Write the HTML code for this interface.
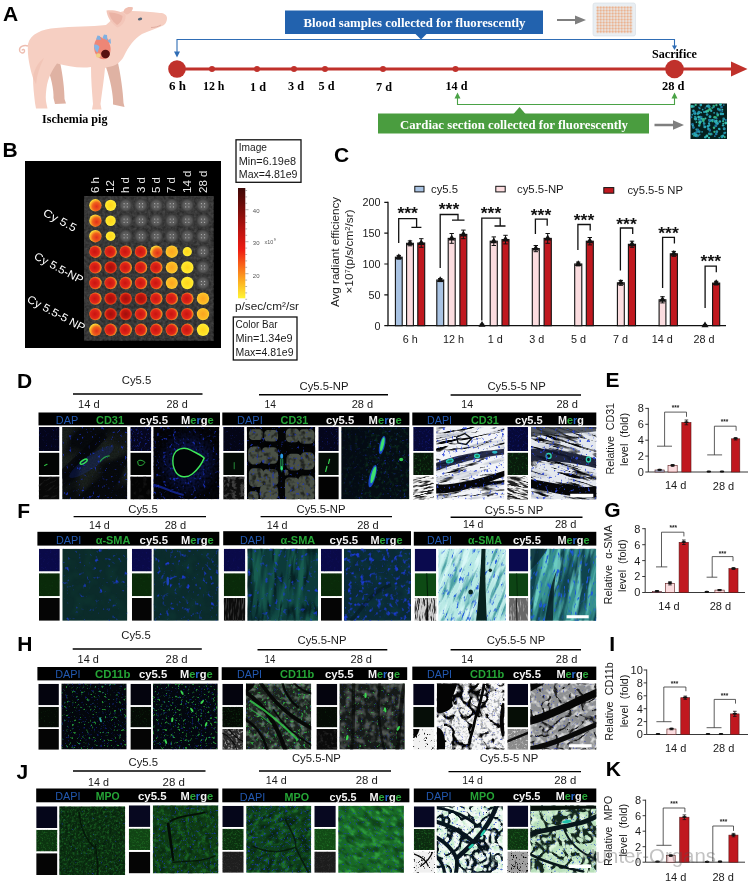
<!DOCTYPE html>
<html lang="en">
<head>
<meta charset="utf-8">
<title>Figure</title>
<style>
html,body{margin:0;padding:0;background:#fff;}
body{width:750px;height:884px;overflow:hidden;}
svg{display:block;}
.ss{font-family:'Liberation Sans', sans-serif;}
.sf{font-family:'Liberation Serif', serif;}
</style>
</head>
<body>
<svg width="750" height="884" viewBox="0 0 750 884">
<defs>
<pattern id="wellp" x="596.3" y="6.200" width="3" height="3" patternUnits="userSpaceOnUse"><circle cx="1.500" cy="1.500" r="1.150" fill="#eba57a"/></pattern>
<filter id="plateTex" x="0" y="0" width="100%" height="100%"><feTurbulence type="fractalNoise" baseFrequency="0.35" numOctaves="2" seed="3"/><feColorMatrix type="matrix" values="0 0 0 0 0.30  0 0 0 0 0.30  0 0 0 0 0.30  0.9 0 0 0 -0.15"/></filter>
<radialGradient id="wg" cx="50%" cy="50%" r="50%"><stop offset="0" stop-color="#686868"/><stop offset="0.7" stop-color="#565656"/><stop offset="1" stop-color="#3c3c3c"/></radialGradient>
<radialGradient id="wR" cx="45%" cy="50%" r="55%"><stop offset="0" stop-color="#c8140f"/><stop offset="0.65" stop-color="#e0261a"/><stop offset="0.85" stop-color="#f46a1e"/><stop offset="1" stop-color="#f9b62a"/></radialGradient>
<radialGradient id="wD" cx="50%" cy="50%" r="55%"><stop offset="0" stop-color="#9c100c"/><stop offset="0.6" stop-color="#c4140f"/><stop offset="0.88" stop-color="#ec4a1a"/><stop offset="1" stop-color="#f7a026"/></radialGradient>
<radialGradient id="wO" cx="60%" cy="60%" r="60%"><stop offset="0" stop-color="#e0301a"/><stop offset="0.55" stop-color="#f0601c"/><stop offset="0.85" stop-color="#fbb32a"/><stop offset="1" stop-color="#ffe03a"/></radialGradient>
<radialGradient id="wYO" cx="50%" cy="50%" r="55%"><stop offset="0" stop-color="#fba41f"/><stop offset="0.7" stop-color="#fdbb25"/><stop offset="1" stop-color="#ffe23a"/></radialGradient>
<radialGradient id="wY" cx="50%" cy="50%" r="55%"><stop offset="0" stop-color="#ffd21e"/><stop offset="0.7" stop-color="#ffe628"/><stop offset="1" stop-color="#fff048"/></radialGradient>
<linearGradient id="cbar" x1="0" y1="0" x2="0" y2="1"><stop offset="0" stop-color="#3e0806"/><stop offset="0.2" stop-color="#7c0d0a"/><stop offset="0.4" stop-color="#c01410"/><stop offset="0.56" stop-color="#ee1c12"/><stop offset="0.7" stop-color="#f8641a"/><stop offset="0.85" stop-color="#fdb121"/><stop offset="1" stop-color="#fff535"/></linearGradient>
<filter id="n0" x="0" y="0" width="100%" height="100%" color-interpolation-filters="sRGB"><feTurbulence type="fractalNoise" baseFrequency="0.018 0.03" numOctaves="2" seed="11"/><feColorMatrix type="matrix" values="0 0 0 0 0.165  0 0 0 0 0.196  0 0 0 0 0.165  5 0 0 0 -2.4"/></filter>
<filter id="n1" x="0" y="0" width="100%" height="100%" color-interpolation-filters="sRGB"><feTurbulence type="fractalNoise" baseFrequency="0.5 0.5" numOctaves="1" seed="5"/><feColorMatrix type="matrix" values="0 0 0 0 0.000  0 0 0 0 0.000  0 0 0 0 0.000  1.2 0 0 0 -0.35"/></filter>
<filter id="n2" x="0" y="0" width="100%" height="100%" color-interpolation-filters="sRGB"><feTurbulence type="fractalNoise" baseFrequency="0.2 0.2" numOctaves="2" seed="21"/><feColorMatrix type="matrix" values="0 0 0 0 0.110  0 0 0 0 0.204  0 0 0 0 0.816  7 0 0 0 -4.6"/></filter>
<filter id="n3" x="0" y="0" width="100%" height="100%" color-interpolation-filters="sRGB"><feTurbulence type="fractalNoise" baseFrequency="0.2 0.2" numOctaves="2" seed="33"/><feColorMatrix type="matrix" values="0 0 0 0 0.110  0 0 0 0 0.204  0 0 0 0 0.816  6 0 0 0 -3.7"/></filter>
<filter id="n4" x="0" y="0" width="100%" height="100%" color-interpolation-filters="sRGB"><feTurbulence type="fractalNoise" baseFrequency="0.3 0.3" numOctaves="1" seed="8"/><feColorMatrix type="matrix" values="0 0 0 0 0.000  0 0 0 0 0.000  0 0 0 0 0.000  3 0 0 0 -1.3"/></filter>
<filter id="n5" x="0" y="0" width="100%" height="100%" color-interpolation-filters="sRGB"><feTurbulence type="fractalNoise" baseFrequency="0.14 0.14" numOctaves="2" seed="4"/><feColorMatrix type="matrix" values="0 0 0 0 0.000  0 0 0 0 0.000  0 0 0 0 0.000  4 0 0 0 -1.9"/></filter>
<filter id="n6" x="0" y="0" width="100%" height="100%" color-interpolation-filters="sRGB"><feTurbulence type="fractalNoise" baseFrequency="0.22 0.22" numOctaves="2" seed="41"/><feColorMatrix type="matrix" values="0 0 0 0 0.110  0 0 0 0 0.204  0 0 0 0 0.753  7 0 0 0 -4.5"/></filter>
<filter id="n7" x="0" y="0" width="100%" height="100%" color-interpolation-filters="sRGB"><feTurbulence type="fractalNoise" baseFrequency="0.2 0.2" numOctaves="2" seed="6"/><feColorMatrix type="matrix" values="0 0 0 0 0.102  0 0 0 0 0.416  0 0 0 0 0.188  3.5 0 0 0 -1.8"/></filter>
<filter id="n8" x="0" y="0" width="100%" height="100%" color-interpolation-filters="sRGB"><feTurbulence type="fractalNoise" baseFrequency="0.24 0.24" numOctaves="2" seed="52"/><feColorMatrix type="matrix" values="0 0 0 0 0.102  0 0 0 0 0.188  0 0 0 0 0.753  6 0 0 0 -3.9"/></filter>
<filter id="n9" x="0" y="0" width="100%" height="100%" color-interpolation-filters="sRGB"><feTurbulence type="fractalNoise" baseFrequency="0.015 0.12" numOctaves="3" seed="12"/><feColorMatrix type="matrix" values="0 0 0 0 0.502  0 0 0 0 0.533  0 0 0 0 0.588  4 0 0 0 -2.1"/></filter>
<filter id="n10" x="0" y="0" width="100%" height="100%" color-interpolation-filters="sRGB"><feTurbulence type="fractalNoise" baseFrequency="0.02 0.16" numOctaves="3" seed="15"/><feColorMatrix type="matrix" values="0 0 0 0 0.020  0 0 0 0 0.024  0 0 0 0 0.031  9 0 0 0 -5.5"/></filter>
<filter id="n11" x="0" y="0" width="100%" height="100%" color-interpolation-filters="sRGB"><feTurbulence type="turbulence" baseFrequency="0.015 0.1" numOctaves="2" seed="16"/><feColorMatrix type="matrix" values="0 0 0 0 0.020  0 0 0 0 0.024  0 0 0 0 0.031  -9 0 0 0 1.3"/></filter>
<filter id="n12" x="0" y="0" width="100%" height="100%" color-interpolation-filters="sRGB"><feTurbulence type="fractalNoise" baseFrequency="0.22 0.22" numOctaves="2" seed="17"/><feColorMatrix type="matrix" values="0 0 0 0 0.165  0 0 0 0 0.267  0 0 0 0 0.847  7 0 0 0 -4.4"/></filter>
<filter id="n13" x="0" y="0" width="100%" height="100%" color-interpolation-filters="sRGB"><feTurbulence type="fractalNoise" baseFrequency="0.015 0.12" numOctaves="3" seed="17"/><feColorMatrix type="matrix" values="0 0 0 0 0.502  0 0 0 0 0.533  0 0 0 0 0.588  4 0 0 0 -2.1"/></filter>
<filter id="n14" x="0" y="0" width="100%" height="100%" color-interpolation-filters="sRGB"><feTurbulence type="fractalNoise" baseFrequency="0.02 0.16" numOctaves="3" seed="20"/><feColorMatrix type="matrix" values="0 0 0 0 0.020  0 0 0 0 0.024  0 0 0 0 0.031  9 0 0 0 -5.5"/></filter>
<filter id="n15" x="0" y="0" width="100%" height="100%" color-interpolation-filters="sRGB"><feTurbulence type="turbulence" baseFrequency="0.015 0.1" numOctaves="2" seed="21"/><feColorMatrix type="matrix" values="0 0 0 0 0.020  0 0 0 0 0.024  0 0 0 0 0.031  -9 0 0 0 1.3"/></filter>
<filter id="n16" x="0" y="0" width="100%" height="100%" color-interpolation-filters="sRGB"><feTurbulence type="fractalNoise" baseFrequency="0.22 0.22" numOctaves="2" seed="22"/><feColorMatrix type="matrix" values="0 0 0 0 0.165  0 0 0 0 0.267  0 0 0 0 0.847  7 0 0 0 -4.4"/></filter>
<filter id="n17" x="0" y="0" width="100%" height="100%" color-interpolation-filters="sRGB"><feTurbulence type="fractalNoise" baseFrequency="0.12 0.12" numOctaves="2" seed="1"/><feColorMatrix type="matrix" values="0 0 0 0 0.125  0 0 0 0 0.188  0 0 0 0 0.753  3 0 0 0 -1.9"/></filter>
<filter id="n18" x="0" y="0" width="100%" height="100%" color-interpolation-filters="sRGB"><feTurbulence type="fractalNoise" baseFrequency="0.03 0.1" numOctaves="2" seed="2"/><feColorMatrix type="matrix" values="0 0 0 0 0.165  0 0 0 0 0.165  0 0 0 0 0.165  3 0 0 0 -1.6"/></filter>
<filter id="n19" x="0" y="0" width="100%" height="100%" color-interpolation-filters="sRGB"><feTurbulence type="fractalNoise" baseFrequency="0.12 0.12" numOctaves="2" seed="3"/><feColorMatrix type="matrix" values="0 0 0 0 0.125  0 0 0 0 0.188  0 0 0 0 0.753  3.5 0 0 0 -1.9"/></filter>
<filter id="n20" x="0" y="0" width="100%" height="100%" color-interpolation-filters="sRGB"><feTurbulence type="fractalNoise" baseFrequency="0.05 0.05" numOctaves="2" seed="4"/><feColorMatrix type="matrix" values="0 0 0 0 0.086  0 0 0 0 0.086  0 0 0 0 0.086  3 0 0 0 -1.5"/></filter>
<filter id="n21" x="0" y="0" width="100%" height="100%" color-interpolation-filters="sRGB"><feTurbulence type="fractalNoise" baseFrequency="0.12 0.12" numOctaves="2" seed="5"/><feColorMatrix type="matrix" values="0 0 0 0 0.125  0 0 0 0 0.188  0 0 0 0 0.753  2.5 0 0 0 -1.6"/></filter>
<filter id="n22" x="0" y="0" width="100%" height="100%" color-interpolation-filters="sRGB"><feTurbulence type="fractalNoise" baseFrequency="0.05 0.07" numOctaves="2" seed="6"/><feColorMatrix type="matrix" values="0 0 0 0 0.267  0 0 0 0 0.267  0 0 0 0 0.267  5 0 0 0 -2.3"/></filter>
<filter id="n23" x="0" y="0" width="100%" height="100%" color-interpolation-filters="sRGB"><feTurbulence type="fractalNoise" baseFrequency="0.12 0.12" numOctaves="2" seed="7"/><feColorMatrix type="matrix" values="0 0 0 0 0.125  0 0 0 0 0.188  0 0 0 0 0.753  3 0 0 0 -1.8"/></filter>
<filter id="n24" x="0" y="0" width="100%" height="100%" color-interpolation-filters="sRGB"><feTurbulence type="fractalNoise" baseFrequency="0.12 0.12" numOctaves="2" seed="8"/><feColorMatrix type="matrix" values="0 0 0 0 0.125  0 0 0 0 0.188  0 0 0 0 0.753  2 0 0 0 -1.1"/></filter>
<filter id="n25" x="0" y="0" width="100%" height="100%" color-interpolation-filters="sRGB"><feTurbulence type="fractalNoise" baseFrequency="0.1 0.1" numOctaves="2" seed="9"/><feColorMatrix type="matrix" values="0 0 0 0 0.165  0 0 0 0 0.604  0 0 0 0 0.227  2 0 0 0 -1.1"/></filter>
<filter id="n26" x="0" y="0" width="100%" height="100%" color-interpolation-filters="sRGB"><feTurbulence type="fractalNoise" baseFrequency="0.02 0.2" numOctaves="2" seed="10"/><feColorMatrix type="matrix" values="0 0 0 0 0.039  0 0 0 0 0.039  0 0 0 0 0.039  7 0 0 0 -3.2"/></filter>
<filter id="n27" x="0" y="0" width="100%" height="100%" color-interpolation-filters="sRGB"><feTurbulence type="fractalNoise" baseFrequency="0.12 0.12" numOctaves="2" seed="11"/><feColorMatrix type="matrix" values="0 0 0 0 0.125  0 0 0 0 0.188  0 0 0 0 0.753  2 0 0 0 -1.1"/></filter>
<filter id="n28" x="0" y="0" width="100%" height="100%" color-interpolation-filters="sRGB"><feTurbulence type="fractalNoise" baseFrequency="0.1 0.1" numOctaves="2" seed="12"/><feColorMatrix type="matrix" values="0 0 0 0 0.165  0 0 0 0 0.604  0 0 0 0 0.227  2 0 0 0 -1.1"/></filter>
<filter id="n29" x="0" y="0" width="100%" height="100%" color-interpolation-filters="sRGB"><feTurbulence type="fractalNoise" baseFrequency="0.02 0.2" numOctaves="2" seed="13"/><feColorMatrix type="matrix" values="0 0 0 0 0.039  0 0 0 0 0.039  0 0 0 0 0.039  7 0 0 0 -3.0"/></filter>
<filter id="n30" x="0" y="0" width="100%" height="100%" color-interpolation-filters="sRGB"><feTurbulence type="fractalNoise" baseFrequency="0.06 0.06" numOctaves="2" seed="61"/><feColorMatrix type="matrix" values="0 0 0 0 0.078  0 0 0 0 0.282  0 0 0 0 0.235  3 0 0 0 -1.2"/></filter>
<filter id="n31" x="0" y="0" width="100%" height="100%" color-interpolation-filters="sRGB"><feTurbulence type="fractalNoise" baseFrequency="0.16 0.16" numOctaves="2" seed="62"/><feColorMatrix type="matrix" values="0 0 0 0 0.110  0 0 0 0 0.235  0 0 0 0 0.878  4.5 0 0 0 -2.9"/></filter>
<filter id="n32" x="0" y="0" width="100%" height="100%" color-interpolation-filters="sRGB"><feTurbulence type="fractalNoise" baseFrequency="0.06 0.06" numOctaves="2" seed="64"/><feColorMatrix type="matrix" values="0 0 0 0 0.078  0 0 0 0 0.282  0 0 0 0 0.235  3 0 0 0 -1.2"/></filter>
<filter id="n33" x="0" y="0" width="100%" height="100%" color-interpolation-filters="sRGB"><feTurbulence type="fractalNoise" baseFrequency="0.16 0.16" numOctaves="2" seed="65"/><feColorMatrix type="matrix" values="0 0 0 0 0.110  0 0 0 0 0.235  0 0 0 0 0.878  4.5 0 0 0 -2.8"/></filter>
<filter id="n34" x="0" y="0" width="100%" height="100%" color-interpolation-filters="sRGB"><feTurbulence type="fractalNoise" baseFrequency="0.09 0.012" numOctaves="3" seed="67"/><feColorMatrix type="matrix" values="0 0 0 0 0.125  0 0 0 0 0.463  0 0 0 0 0.376  4 0 0 0 -1.7"/></filter>
<filter id="n35" x="0" y="0" width="100%" height="100%" color-interpolation-filters="sRGB"><feTurbulence type="turbulence" baseFrequency="0.06 0.012" numOctaves="2" seed="68"/><feColorMatrix type="matrix" values="0 0 0 0 0.016  0 0 0 0 0.094  0 0 0 0 0.110  -7 0 0 0 1.3"/></filter>
<filter id="n36" x="0" y="0" width="100%" height="100%" color-interpolation-filters="sRGB"><feTurbulence type="fractalNoise" baseFrequency="0.16 0.16" numOctaves="2" seed="69"/><feColorMatrix type="matrix" values="0 0 0 0 0.110  0 0 0 0 0.235  0 0 0 0 0.878  4.5 0 0 0 -2.75"/></filter>
<filter id="n37" x="0" y="0" width="100%" height="100%" color-interpolation-filters="sRGB"><feTurbulence type="fractalNoise" baseFrequency="0.06 0.06" numOctaves="2" seed="71"/><feColorMatrix type="matrix" values="0 0 0 0 0.078  0 0 0 0 0.314  0 0 0 0 0.290  3 0 0 0 -1.2"/></filter>
<filter id="n38" x="0" y="0" width="100%" height="100%" color-interpolation-filters="sRGB"><feTurbulence type="fractalNoise" baseFrequency="0.16 0.16" numOctaves="2" seed="72"/><feColorMatrix type="matrix" values="0 0 0 0 0.110  0 0 0 0 0.235  0 0 0 0 0.878  4.5 0 0 0 -2.5"/></filter>
<filter id="n39" x="0" y="0" width="100%" height="100%" color-interpolation-filters="sRGB"><feTurbulence type="fractalNoise" baseFrequency="0.16 0.025" numOctaves="3" seed="74"/><feColorMatrix type="matrix" values="0 0 0 0 0.165  0 0 0 0 0.541  0 0 0 0 0.565  4.5 0 0 0 -2.2"/></filter>
<filter id="n40" x="0" y="0" width="100%" height="100%" color-interpolation-filters="sRGB"><feTurbulence type="fractalNoise" baseFrequency="0.16 0.025" numOctaves="3" seed="75"/><feColorMatrix type="matrix" values="0 0 0 0 0.910  0 0 0 0 1.000  0 0 0 0 1.000  4.5 0 0 0 -2.3"/></filter>
<filter id="n41" x="0" y="0" width="100%" height="100%" color-interpolation-filters="sRGB"><feTurbulence type="fractalNoise" baseFrequency="0.3 0.09" numOctaves="2" seed="76"/><feColorMatrix type="matrix" values="0 0 0 0 0.125  0 0 0 0 0.345  0 0 0 0 0.878  7 0 0 0 -4.2"/></filter>
<filter id="n42" x="0" y="0" width="100%" height="100%" color-interpolation-filters="sRGB"><feTurbulence type="fractalNoise" baseFrequency="0.08 0.012" numOctaves="3" seed="78"/><feColorMatrix type="matrix" values="0 0 0 0 0.047  0 0 0 0 0.235  0 0 0 0 0.282  5 0 0 0 -2.2"/></filter>
<filter id="n43" x="0" y="0" width="100%" height="100%" color-interpolation-filters="sRGB"><feTurbulence type="fractalNoise" baseFrequency="0.1 0.015" numOctaves="3" seed="79"/><feColorMatrix type="matrix" values="0 0 0 0 0.478  0 0 0 0 0.863  0 0 0 0 0.816  5 0 0 0 -2.6"/></filter>
<filter id="n44" x="0" y="0" width="100%" height="100%" color-interpolation-filters="sRGB"><feTurbulence type="fractalNoise" baseFrequency="0.3 0.1" numOctaves="2" seed="80"/><feColorMatrix type="matrix" values="0 0 0 0 0.110  0 0 0 0 0.345  0 0 0 0 0.878  7 0 0 0 -4.1"/></filter>
<filter id="n45" x="0" y="0" width="100%" height="100%" color-interpolation-filters="sRGB"><feTurbulence type="fractalNoise" baseFrequency="0.1 0.1" numOctaves="2" seed="81"/><feColorMatrix type="matrix" values="0 0 0 0 0.094  0 0 0 0 0.094  0 0 0 0 0.478  3 0 0 0 -1.7"/></filter>
<filter id="n46" x="0" y="0" width="100%" height="100%" color-interpolation-filters="sRGB"><feTurbulence type="fractalNoise" baseFrequency="0.1 0.1" numOctaves="2" seed="82"/><feColorMatrix type="matrix" values="0 0 0 0 0.078  0 0 0 0 0.290  0 0 0 0 0.086  3 0 0 0 -1.7"/></filter>
<filter id="n47" x="0" y="0" width="100%" height="100%" color-interpolation-filters="sRGB"><feTurbulence type="fractalNoise" baseFrequency="0.1 0.1" numOctaves="2" seed="83"/><feColorMatrix type="matrix" values="0 0 0 0 0.094  0 0 0 0 0.094  0 0 0 0 0.478  3 0 0 0 -1.7"/></filter>
<filter id="n48" x="0" y="0" width="100%" height="100%" color-interpolation-filters="sRGB"><feTurbulence type="fractalNoise" baseFrequency="0.1 0.1" numOctaves="2" seed="84"/><feColorMatrix type="matrix" values="0 0 0 0 0.078  0 0 0 0 0.290  0 0 0 0 0.086  3 0 0 0 -1.7"/></filter>
<filter id="n49" x="0" y="0" width="100%" height="100%" color-interpolation-filters="sRGB"><feTurbulence type="fractalNoise" baseFrequency="0.1 0.1" numOctaves="2" seed="85"/><feColorMatrix type="matrix" values="0 0 0 0 0.094  0 0 0 0 0.094  0 0 0 0 0.478  3 0 0 0 -1.7"/></filter>
<filter id="n50" x="0" y="0" width="100%" height="100%" color-interpolation-filters="sRGB"><feTurbulence type="fractalNoise" baseFrequency="0.1 0.1" numOctaves="2" seed="86"/><feColorMatrix type="matrix" values="0 0 0 0 0.078  0 0 0 0 0.290  0 0 0 0 0.086  3 0 0 0 -1.7"/></filter>
<filter id="n51" x="0" y="0" width="100%" height="100%" color-interpolation-filters="sRGB"><feTurbulence type="fractalNoise" baseFrequency="0.2 0.02" numOctaves="2" seed="87"/><feColorMatrix type="matrix" values="0 0 0 0 0.290  0 0 0 0 0.290  0 0 0 0 0.290  4 0 0 0 -1.9"/></filter>
<filter id="n52" x="0" y="0" width="100%" height="100%" color-interpolation-filters="sRGB"><feTurbulence type="fractalNoise" baseFrequency="0.1 0.1" numOctaves="2" seed="88"/><feColorMatrix type="matrix" values="0 0 0 0 0.094  0 0 0 0 0.094  0 0 0 0 0.478  3 0 0 0 -1.7"/></filter>
<filter id="n53" x="0" y="0" width="100%" height="100%" color-interpolation-filters="sRGB"><feTurbulence type="fractalNoise" baseFrequency="0.1 0.1" numOctaves="2" seed="89"/><feColorMatrix type="matrix" values="0 0 0 0 0.078  0 0 0 0 0.290  0 0 0 0 0.086  3 0 0 0 -1.7"/></filter>
<filter id="n54" x="0" y="0" width="100%" height="100%" color-interpolation-filters="sRGB"><feTurbulence type="fractalNoise" baseFrequency="0.3 0.03" numOctaves="2" seed="90"/><feColorMatrix type="matrix" values="0 0 0 0 0.125  0 0 0 0 0.125  0 0 0 0 0.125  5 0 0 0 -2.3"/></filter>
<filter id="n55" x="0" y="0" width="100%" height="100%" color-interpolation-filters="sRGB"><feTurbulence type="fractalNoise" baseFrequency="0.3 0.03" numOctaves="2" seed="91"/><feColorMatrix type="matrix" values="0 0 0 0 0.753  0 0 0 0 0.753  0 0 0 0 0.753  5 0 0 0 -2.5"/></filter>
<filter id="n56" x="0" y="0" width="100%" height="100%" color-interpolation-filters="sRGB"><feTurbulence type="fractalNoise" baseFrequency="0.3 0.3" numOctaves="2" seed="101"/><feColorMatrix type="matrix" values="0 0 0 0 0.102  0 0 0 0 0.188  0 0 0 0 0.690  6 0 0 0 -3.7"/></filter>
<filter id="n57" x="0" y="0" width="100%" height="100%" color-interpolation-filters="sRGB"><feTurbulence type="fractalNoise" baseFrequency="0.26 0.26" numOctaves="2" seed="102"/><feColorMatrix type="matrix" values="0 0 0 0 0.188  0 0 0 0 0.784  0 0 0 0 0.267  8 0 0 0 -5.15"/></filter>
<filter id="n58" x="0" y="0" width="100%" height="100%" color-interpolation-filters="sRGB"><feTurbulence type="fractalNoise" baseFrequency="0.3 0.3" numOctaves="2" seed="104"/><feColorMatrix type="matrix" values="0 0 0 0 0.102  0 0 0 0 0.188  0 0 0 0 0.690  6 0 0 0 -3.7"/></filter>
<filter id="n59" x="0" y="0" width="100%" height="100%" color-interpolation-filters="sRGB"><feTurbulence type="fractalNoise" baseFrequency="0.26 0.26" numOctaves="2" seed="105"/><feColorMatrix type="matrix" values="0 0 0 0 0.188  0 0 0 0 0.784  0 0 0 0 0.267  8 0 0 0 -5.05"/></filter>
<filter id="n60" x="0" y="0" width="100%" height="100%" color-interpolation-filters="sRGB"><feTurbulence type="fractalNoise" baseFrequency="0.12 0.12" numOctaves="2" seed="107"/><feColorMatrix type="matrix" values="0 0 0 0 0.486  0 0 0 0 0.580  0 0 0 0 0.510  3.5 0 0 0 -1.6"/></filter>
<filter id="n61" x="0" y="0" width="100%" height="100%" color-interpolation-filters="sRGB"><feTurbulence type="fractalNoise" baseFrequency="0.25 0.25" numOctaves="2" seed="108"/><feColorMatrix type="matrix" values="0 0 0 0 0.204  0 0 0 0 0.784  0 0 0 0 0.282  6 0 0 0 -3.6"/></filter>
<filter id="n62" x="0" y="0" width="100%" height="100%" color-interpolation-filters="sRGB"><feTurbulence type="fractalNoise" baseFrequency="0.3 0.3" numOctaves="2" seed="109"/><feColorMatrix type="matrix" values="0 0 0 0 0.125  0 0 0 0 0.220  0 0 0 0 0.722  6 0 0 0 -3.9"/></filter>
<filter id="n63" x="0" y="0" width="100%" height="100%" color-interpolation-filters="sRGB"><feTurbulence type="fractalNoise" baseFrequency="0.1 0.1" numOctaves="2" seed="111"/><feColorMatrix type="matrix" values="0 0 0 0 0.416  0 0 0 0 0.439  0 0 0 0 0.424  3.5 0 0 0 -1.5"/></filter>
<filter id="n64" x="0" y="0" width="100%" height="100%" color-interpolation-filters="sRGB"><feTurbulence type="fractalNoise" baseFrequency="0.3 0.3" numOctaves="2" seed="112"/><feColorMatrix type="matrix" values="0 0 0 0 0.204  0 0 0 0 0.784  0 0 0 0 0.282  7 0 0 0 -4.7"/></filter>
<filter id="n65" x="0" y="0" width="100%" height="100%" color-interpolation-filters="sRGB"><feTurbulence type="fractalNoise" baseFrequency="0.3 0.3" numOctaves="2" seed="113"/><feColorMatrix type="matrix" values="0 0 0 0 0.125  0 0 0 0 0.220  0 0 0 0 0.722  6 0 0 0 -3.9"/></filter>
<filter id="n66" x="0" y="0" width="100%" height="100%" color-interpolation-filters="sRGB"><feTurbulence type="fractalNoise" baseFrequency="0.2 0.2" numOctaves="2" seed="115"/><feColorMatrix type="matrix" values="0 0 0 0 0.478  0 0 0 0 0.494  0 0 0 0 0.518  4 0 0 0 -2.0"/></filter>
<filter id="n67" x="0" y="0" width="100%" height="100%" color-interpolation-filters="sRGB"><feTurbulence type="turbulence" baseFrequency="0.04 0.04" numOctaves="2" seed="116"/><feColorMatrix type="matrix" values="0 0 0 0 0.020  0 0 0 0 0.020  0 0 0 0 0.020  -11 0 0 0 1.7"/></filter>
<filter id="n68" x="0" y="0" width="100%" height="100%" color-interpolation-filters="sRGB"><feTurbulence type="fractalNoise" baseFrequency="0.3 0.3" numOctaves="2" seed="117"/><feColorMatrix type="matrix" values="0 0 0 0 0.227  0 0 0 0 0.282  0 0 0 0 0.753  7 0 0 0 -4.6"/></filter>
<filter id="n69" x="0" y="0" width="100%" height="100%" color-interpolation-filters="sRGB"><feTurbulence type="fractalNoise" baseFrequency="0.12 0.12" numOctaves="2" seed="119"/><feColorMatrix type="matrix" values="0 0 0 0 0.910  0 0 0 0 0.910  0 0 0 0 0.910  4 0 0 0 -1.9"/></filter>
<filter id="n70" x="0" y="0" width="100%" height="100%" color-interpolation-filters="sRGB"><feTurbulence type="turbulence" baseFrequency="0.05 0.05" numOctaves="2" seed="120"/><feColorMatrix type="matrix" values="0 0 0 0 0.063  0 0 0 0 0.063  0 0 0 0 0.063  -10 0 0 0 1.5"/></filter>
<filter id="n71" x="0" y="0" width="100%" height="100%" color-interpolation-filters="sRGB"><feTurbulence type="fractalNoise" baseFrequency="0.3 0.3" numOctaves="2" seed="121"/><feColorMatrix type="matrix" values="0 0 0 0 0.227  0 0 0 0 0.282  0 0 0 0 0.753  7 0 0 0 -4.6"/></filter>
<filter id="n72" x="0" y="0" width="100%" height="100%" color-interpolation-filters="sRGB"><feTurbulence type="fractalNoise" baseFrequency="0.15 0.15" numOctaves="2" seed="131"/><feColorMatrix type="matrix" values="0 0 0 0 0.094  0 0 0 0 0.353  0 0 0 0 0.125  3 0 0 0 -1.95"/></filter>
<filter id="n73" x="0" y="0" width="100%" height="100%" color-interpolation-filters="sRGB"><feTurbulence type="fractalNoise" baseFrequency="0.15 0.15" numOctaves="2" seed="132"/><feColorMatrix type="matrix" values="0 0 0 0 0.094  0 0 0 0 0.353  0 0 0 0 0.125  3 0 0 0 -1.75"/></filter>
<filter id="n74" x="0" y="0" width="100%" height="100%" color-interpolation-filters="sRGB"><feTurbulence type="fractalNoise" baseFrequency="0.15 0.15" numOctaves="2" seed="133"/><feColorMatrix type="matrix" values="0 0 0 0 0.094  0 0 0 0 0.353  0 0 0 0 0.125  3 0 0 0 -1.5499999999999998"/></filter>
<filter id="n75" x="0" y="0" width="100%" height="100%" color-interpolation-filters="sRGB"><feTurbulence type="fractalNoise" baseFrequency="0.08 0.08" numOctaves="2" seed="134"/><feColorMatrix type="matrix" values="0 0 0 0 0.690  0 0 0 0 0.690  0 0 0 0 0.690  4 0 0 0 -1.9"/></filter>
<filter id="n76" x="0" y="0" width="100%" height="100%" color-interpolation-filters="sRGB"><feTurbulence type="fractalNoise" baseFrequency="0.15 0.15" numOctaves="2" seed="135"/><feColorMatrix type="matrix" values="0 0 0 0 0.094  0 0 0 0 0.353  0 0 0 0 0.125  3 0 0 0 -1.8499999999999999"/></filter>
<filter id="n77" x="0" y="0" width="100%" height="100%" color-interpolation-filters="sRGB"><feTurbulence type="fractalNoise" baseFrequency="0.06 0.06" numOctaves="2" seed="136"/><feColorMatrix type="matrix" values="0 0 0 0 0.227  0 0 0 0 0.227  0 0 0 0 0.227  3 0 0 0 -1.5"/></filter>
<filter id="n78" x="0" y="0" width="100%" height="100%" color-interpolation-filters="sRGB"><feTurbulence type="turbulence" baseFrequency="0.035 0.035" numOctaves="2" seed="137"/><feColorMatrix type="matrix" values="0 0 0 0 0.020  0 0 0 0 0.020  0 0 0 0 0.020  -12 0 0 0 1.1"/></filter>
<filter id="n79" x="0" y="0" width="100%" height="100%" color-interpolation-filters="sRGB"><feTurbulence type="fractalNoise" baseFrequency="0.1 0.1" numOctaves="2" seed="138"/><feColorMatrix type="matrix" values="0 0 0 0 0.878  0 0 0 0 0.878  0 0 0 0 0.878  4 0 0 0 -2.1"/></filter>
<filter id="n80" x="0" y="0" width="100%" height="100%" color-interpolation-filters="sRGB"><feTurbulence type="fractalNoise" baseFrequency="0.3 0.3" numOctaves="3" seed="141"/><feColorMatrix type="matrix" values="0 0 0 0 0.220  0 0 0 0 0.784  0 0 0 0 0.282  4 0 0 0 -1.9"/></filter>
<filter id="n81" x="0" y="0" width="100%" height="100%" color-interpolation-filters="sRGB"><feTurbulence type="fractalNoise" baseFrequency="0.21 0.21" numOctaves="2" seed="142"/><feColorMatrix type="matrix" values="0 0 0 0 0.016  0 0 0 0 0.063  0 0 0 0 0.039  4 0 0 0 -1.9"/></filter>
<filter id="n82" x="0" y="0" width="100%" height="100%" color-interpolation-filters="sRGB"><feTurbulence type="fractalNoise" baseFrequency="0.3 0.3" numOctaves="2" seed="143"/><feColorMatrix type="matrix" values="0 0 0 0 0.110  0 0 0 0 0.220  0 0 0 0 0.784  6 0 0 0 -4.3"/></filter>
<filter id="n83" x="0" y="0" width="100%" height="100%" color-interpolation-filters="sRGB"><feTurbulence type="fractalNoise" baseFrequency="0.16 0.16" numOctaves="3" seed="145"/><feColorMatrix type="matrix" values="0 0 0 0 0.204  0 0 0 0 0.753  0 0 0 0 0.267  4 0 0 0 -1.9"/></filter>
<filter id="n84" x="0" y="0" width="100%" height="100%" color-interpolation-filters="sRGB"><feTurbulence type="fractalNoise" baseFrequency="0.11199999999999999 0.11199999999999999" numOctaves="2" seed="146"/><feColorMatrix type="matrix" values="0 0 0 0 0.016  0 0 0 0 0.078  0 0 0 0 0.039  4 0 0 0 -1.9"/></filter>
<filter id="n85" x="0" y="0" width="100%" height="100%" color-interpolation-filters="sRGB"><feTurbulence type="fractalNoise" baseFrequency="0.3 0.3" numOctaves="2" seed="147"/><feColorMatrix type="matrix" values="0 0 0 0 0.110  0 0 0 0 0.220  0 0 0 0 0.784  6 0 0 0 -3.7"/></filter>
<filter id="n86" x="0" y="0" width="100%" height="100%" color-interpolation-filters="sRGB"><feTurbulence type="fractalNoise" baseFrequency="0.1 0.16" numOctaves="3" seed="149"/><feColorMatrix type="matrix" values="0 0 0 0 0.235  0 0 0 0 0.816  0 0 0 0 0.298  4 0 0 0 -1.9"/></filter>
<filter id="n87" x="0" y="0" width="100%" height="100%" color-interpolation-filters="sRGB"><feTurbulence type="fractalNoise" baseFrequency="0.06999999999999999 0.11199999999999999" numOctaves="2" seed="150"/><feColorMatrix type="matrix" values="0 0 0 0 0.016  0 0 0 0 0.078  0 0 0 0 0.039  4 0 0 0 -1.9"/></filter>
<filter id="n88" x="0" y="0" width="100%" height="100%" color-interpolation-filters="sRGB"><feTurbulence type="fractalNoise" baseFrequency="0.3 0.3" numOctaves="2" seed="151"/><feColorMatrix type="matrix" values="0 0 0 0 0.110  0 0 0 0 0.220  0 0 0 0 0.784  6 0 0 0 -3.5"/></filter>
<filter id="n89" x="0" y="0" width="100%" height="100%" color-interpolation-filters="sRGB"><feTurbulence type="fractalNoise" baseFrequency="0.08 0.14" numOctaves="3" seed="153"/><feColorMatrix type="matrix" values="0 0 0 0 0.314  0 0 0 0 0.910  0 0 0 0 0.376  4 0 0 0 -1.9"/></filter>
<filter id="n90" x="0" y="0" width="100%" height="100%" color-interpolation-filters="sRGB"><feTurbulence type="fractalNoise" baseFrequency="0.055999999999999994 0.098" numOctaves="2" seed="154"/><feColorMatrix type="matrix" values="0 0 0 0 0.024  0 0 0 0 0.125  0 0 0 0 0.047  4 0 0 0 -1.9"/></filter>
<filter id="n91" x="0" y="0" width="100%" height="100%" color-interpolation-filters="sRGB"><feTurbulence type="fractalNoise" baseFrequency="0.3 0.3" numOctaves="2" seed="155"/><feColorMatrix type="matrix" values="0 0 0 0 0.110  0 0 0 0 0.220  0 0 0 0 0.784  6 0 0 0 -3.8"/></filter>
<filter id="n92" x="0" y="0" width="100%" height="100%" color-interpolation-filters="sRGB"><feTurbulence type="fractalNoise" baseFrequency="0.15 0.15" numOctaves="2" seed="157"/><feColorMatrix type="matrix" values="0 0 0 0 0.722  0 0 0 0 0.910  0 0 0 0 0.753  3.5 0 0 0 -1.5"/></filter>
<filter id="n93" x="0" y="0" width="100%" height="100%" color-interpolation-filters="sRGB"><feTurbulence type="turbulence" baseFrequency="0.055 0.055" numOctaves="2" seed="158"/><feColorMatrix type="matrix" values="0 0 0 0 0.024  0 0 0 0 0.078  0 0 0 0 0.110  -9 0 0 0 1.9"/></filter>
<filter id="n94" x="0" y="0" width="100%" height="100%" color-interpolation-filters="sRGB"><feTurbulence type="fractalNoise" baseFrequency="0.3 0.3" numOctaves="2" seed="159"/><feColorMatrix type="matrix" values="0 0 0 0 0.165  0 0 0 0 0.314  0 0 0 0 0.784  7 0 0 0 -4.5"/></filter>
<filter id="n95" x="0" y="0" width="100%" height="100%" color-interpolation-filters="sRGB"><feTurbulence type="fractalNoise" baseFrequency="0.12 0.12" numOctaves="2" seed="161"/><feColorMatrix type="matrix" values="0 0 0 0 0.941  0 0 0 0 1.000  0 0 0 0 0.941  3.5 0 0 0 -1.5"/></filter>
<filter id="n96" x="0" y="0" width="100%" height="100%" color-interpolation-filters="sRGB"><feTurbulence type="turbulence" baseFrequency="0.055 0.055" numOctaves="2" seed="162"/><feColorMatrix type="matrix" values="0 0 0 0 0.039  0 0 0 0 0.110  0 0 0 0 0.078  -8 0 0 0 2.0"/></filter>
<filter id="n97" x="0" y="0" width="100%" height="100%" color-interpolation-filters="sRGB"><feTurbulence type="fractalNoise" baseFrequency="0.3 0.3" numOctaves="2" seed="163"/><feColorMatrix type="matrix" values="0 0 0 0 0.165  0 0 0 0 0.314  0 0 0 0 0.784  7 0 0 0 -4.5"/></filter>
<filter id="n98" x="0" y="0" width="100%" height="100%" color-interpolation-filters="sRGB"><feTurbulence type="fractalNoise" baseFrequency="0.12 0.12" numOctaves="2" seed="171"/><feColorMatrix type="matrix" values="0 0 0 0 0.165  0 0 0 0 0.541  0 0 0 0 0.188  3 0 0 0 -1.5"/></filter>
<filter id="n99" x="0" y="0" width="100%" height="100%" color-interpolation-filters="sRGB"><feTurbulence type="fractalNoise" baseFrequency="0.12 0.12" numOctaves="2" seed="172"/><feColorMatrix type="matrix" values="0 0 0 0 0.165  0 0 0 0 0.541  0 0 0 0 0.188  3 0 0 0 -1.5"/></filter>
<filter id="n100" x="0" y="0" width="100%" height="100%" color-interpolation-filters="sRGB"><feTurbulence type="fractalNoise" baseFrequency="0.12 0.12" numOctaves="2" seed="173"/><feColorMatrix type="matrix" values="0 0 0 0 0.165  0 0 0 0 0.541  0 0 0 0 0.188  3 0 0 0 -1.5"/></filter>
<filter id="n101" x="0" y="0" width="100%" height="100%" color-interpolation-filters="sRGB"><feTurbulence type="fractalNoise" baseFrequency="0.4 0.4" numOctaves="1" seed="174"/><feColorMatrix type="matrix" values="0 0 0 0 0.290  0 0 0 0 0.290  0 0 0 0 0.290  3 0 0 0 -1.5"/></filter>
<filter id="n102" x="0" y="0" width="100%" height="100%" color-interpolation-filters="sRGB"><feTurbulence type="fractalNoise" baseFrequency="0.12 0.12" numOctaves="2" seed="175"/><feColorMatrix type="matrix" values="0 0 0 0 0.165  0 0 0 0 0.541  0 0 0 0 0.188  3 0 0 0 -1.5"/></filter>
<filter id="n103" x="0" y="0" width="100%" height="100%" color-interpolation-filters="sRGB"><feTurbulence type="fractalNoise" baseFrequency="0.4 0.4" numOctaves="1" seed="176"/><feColorMatrix type="matrix" values="0 0 0 0 0.267  0 0 0 0 0.267  0 0 0 0 0.267  3 0 0 0 -1.5"/></filter>
<filter id="n104" x="0" y="0" width="100%" height="100%" color-interpolation-filters="sRGB"><feTurbulence type="fractalNoise" baseFrequency="0.12 0.12" numOctaves="2" seed="177"/><feColorMatrix type="matrix" values="0 0 0 0 0.165  0 0 0 0 0.541  0 0 0 0 0.188  3 0 0 0 -1.5"/></filter>
<filter id="n105" x="0" y="0" width="100%" height="100%" color-interpolation-filters="sRGB"><feTurbulence type="turbulence" baseFrequency="0.04 0.04" numOctaves="2" seed="178"/><feColorMatrix type="matrix" values="0 0 0 0 0.020  0 0 0 0 0.020  0 0 0 0 0.020  -12 0 0 0 1.2"/></filter>
<filter id="n106" x="0" y="0" width="100%" height="100%" color-interpolation-filters="sRGB"><feTurbulence type="fractalNoise" baseFrequency="0.12 0.12" numOctaves="2" seed="179"/><feColorMatrix type="matrix" values="0 0 0 0 0.165  0 0 0 0 0.541  0 0 0 0 0.188  3 0 0 0 -1.5"/></filter>
<filter id="n107" x="0" y="0" width="100%" height="100%" color-interpolation-filters="sRGB"><feTurbulence type="turbulence" baseFrequency="0.05 0.05" numOctaves="2" seed="180"/><feColorMatrix type="matrix" values="0 0 0 0 0.039  0 0 0 0 0.039  0 0 0 0 0.039  -10 0 0 0 1.3"/></filter>
</defs>
<rect width="750" height="884" fill="#fff"/>
<g id="panelA">
<text class="ss" x="3.0" y="20.5" font-size="21" font-weight="bold">A</text>
<g id="pig">
<path d="M104 62 C109 74 112.500 90 113 100 L113 104.500 L124.500 107 L123.500 103 C123 92 121 76 117 58 Z" fill="#dfb2a3"/>
<path d="M46 64 C51 76 54 90 53.500 98 L55 104 L66 103.500 L64.500 99 C64.500 90 63 76 60 62 Z" fill="#dfb2a3"/>
<path d="M28 44 C30 34 42 29 56 28 C72 26 92 27 106 25 C110 22 113 18 116 15 C120 11 126 10 132 11 C142 11 152 12 160 13 C164 13 167 15 167 18 C167 22 165 25 162 26 C156 29 148 31 142 34 C134 39 128 47 124 56 C121 62 116 66 108 67 L105 68 C104 80 102 92 100.500 104 L101.500 109.500 L92 109.500 L93 104 C92 92 91 80 91 67 C80 68.500 68 66.500 57 63.500 C52 70 48 78 46.500 88 C45.500 95 45.500 100 46.500 104 L47.500 108.500 L36 108.500 L35 103 C34 94 33 86 33 78 C30 68 27 56 28 44 Z" fill="#f6cfc2"/>
<path d="M33 78 C34 70 38 62 44 58 C40 66 37 74 36 84 Z" fill="#efc0b2" opacity="0.7"/>
<path d="M117.500 27.500 C110.500 23 107 16.500 106.500 10.500 C114 9.500 122 12 125.500 14.500 C126.500 20 122.500 26 117.500 27.500 Z" fill="#f3c6b9"/>
<path d="M117 25 C112 21 109.500 16.500 109 12.500 C114 12.500 119.500 14 122.500 16 C122.500 20 120 23.500 117 25 Z" fill="#eab3a5"/>
<path d="M123.500 12.500 C123.500 8.500 127.500 6 133 7.500 C132.500 11.500 129.500 14 126.500 14.500 Z" fill="#f0bfb1"/>
<path d="M28 46 C24 44.500 19.500 46.500 19.500 50 C19.500 53 23.500 54 24.500 51.500 C25 49.500 22.500 48.500 22 50.500" fill="none" stroke="#edbcaf" stroke-width="1.400"/>
<ellipse cx="140" cy="19" rx="2.200" ry="1.400" fill="#56687a" transform="rotate(-12 140 19)"/>
<path d="M151 27.500 C155 27.500 158.500 26.500 161 25" fill="none" stroke="#d9a598" stroke-width="0.800"/>
<path d="M96 40 C97.500 36.500 101 36 103 38.500 C106 36.500 110 39.500 109.500 44 C111.500 48 111 54.500 107 58.500 C103 60.500 98 58.500 96 54.500 C93.500 50 93.500 44 96 40 Z" fill="#ee8676"/>
<path d="M96 39.500 L97.500 35.500 L100 36 L101 40 Z M102.500 38 L104 34.500 L107 35 L107.500 40.500 Z M107.500 41 L110.500 38.500 L111 44 Z" fill="#7fb0e2"/>
<path d="M94 45 C96 44 98.500 45 99.500 47 L97.500 52.500 C95.500 51.500 94 48 94 45 Z" fill="#86b6e6"/>
<ellipse cx="105.500" cy="54" rx="4.400" ry="4.200" fill="#571010"/>
<ellipse cx="98.300" cy="55.500" rx="2.400" ry="2.200" fill="#f1cf86"/>
</g>
<text class="sf" x="42.0" y="123.0" font-size="12.5" font-weight="bold" textLength="65.5" lengthAdjust="spacingAndGlyphs">Ischemia pig</text>
<rect x="285" y="10.500" width="258" height="23.500" fill="#2262ae"/>
<path d="M415 33.500 L427 33.500 L421 39.500 Z" fill="#2262ae"/>
<text class="sf" x="303.5" y="27.0" font-size="13.5" font-weight="bold" textLength="222.0" lengthAdjust="spacingAndGlyphs" fill="#fff">Blood samples collected for fluorescently</text>
<path d="M557 19 H575 V15.500 L586 20 L575 24.500 V21 H557 Z" fill="#7f7f7f"/>
<rect x="593" y="3" width="42.500" height="33" rx="2" fill="#e9eef2" stroke="#d5dce2" stroke-width="0.6"/>
<rect x="596.300" y="6.200" width="36" height="27" fill="url(#wellp)"/>
<path d="M177 54 V39.500 H674.500 V47" fill="none" stroke="#2f6db5" stroke-width="1.100"/>
<path d="M174 51.500 L180 51.500 L177 57.500 Z" fill="#2f6db5"/>
<path d="M672 45.500 L677 45.500 L674.500 50 Z" fill="#2f6db5"/>
<text class="sf" x="652.0" y="58.3" font-size="12" font-weight="bold" textLength="45.0" lengthAdjust="spacingAndGlyphs">Sacrifice</text>
<path d="M177 69 H734" stroke="#c0312b" stroke-width="3.200"/>
<path d="M731 61.500 L747.500 69 L731 76.500 Z" fill="#c0312b"/>
<circle cx="177" cy="69" r="8.800" fill="#c0312b"/>
<circle cx="674.500" cy="69" r="9.300" fill="#c0312b"/>
<circle cx="212" cy="69" r="3" fill="#c0312b"/>
<circle cx="257" cy="69" r="3" fill="#c0312b"/>
<circle cx="294" cy="69" r="3" fill="#c0312b"/>
<circle cx="325" cy="69" r="3" fill="#c0312b"/>
<circle cx="383" cy="69" r="3" fill="#c0312b"/>
<circle cx="455.5" cy="69" r="3" fill="#c0312b"/>
<text class="sf" x="169.0" y="89.6" font-size="11.5" font-weight="bold" textLength="17.0" lengthAdjust="spacingAndGlyphs">6 h</text>
<text class="sf" x="203.0" y="89.6" font-size="11.5" font-weight="bold" textLength="21.5" lengthAdjust="spacingAndGlyphs">12 h</text>
<text class="sf" x="250.0" y="91.4" font-size="11.5" font-weight="bold" textLength="16.0" lengthAdjust="spacingAndGlyphs">1 d</text>
<text class="sf" x="288.0" y="89.6" font-size="11.5" font-weight="bold" textLength="16.0" lengthAdjust="spacingAndGlyphs">3 d</text>
<text class="sf" x="318.5" y="89.6" font-size="11.5" font-weight="bold" textLength="16.0" lengthAdjust="spacingAndGlyphs">5 d</text>
<text class="sf" x="376.0" y="91.4" font-size="11.5" font-weight="bold" textLength="16.0" lengthAdjust="spacingAndGlyphs">7 d</text>
<text class="sf" x="445.5" y="89.8" font-size="11.5" font-weight="bold" textLength="22.0" lengthAdjust="spacingAndGlyphs">14 d</text>
<text class="sf" x="662.0" y="89.8" font-size="11.5" font-weight="bold" textLength="22.5" lengthAdjust="spacingAndGlyphs">28 d</text>
<path d="M457.500 97 V104.500 H674.500 V97" fill="none" stroke="#4aa246" stroke-width="1.100"/>
<path d="M454.500 98.500 L460.500 98.500 L457.500 92.500 Z" fill="#4aa246"/>
<path d="M671.500 98.500 L677.500 98.500 L674.500 92.500 Z" fill="#4aa246"/>
<rect x="378" y="113.500" width="271" height="20" fill="#4a9d3f"/>
<path d="M513.500 114 L525.500 114 L519.500 107 Z" fill="#4a9d3f"/>
<text class="sf" x="400.0" y="128.5" font-size="13.5" font-weight="bold" textLength="228.0" lengthAdjust="spacingAndGlyphs" fill="#fff">Cardiac section collected for fluorescently</text>
<path d="M654.500 123.800 H673 V120.300 L684 125 L673 129.700 V126.200 H654.500 Z" fill="#7f7f7f"/>
<rect x="690.500" y="103.500" width="36.500" height="35.500" fill="#06201e"/>
<g opacity="0.9"><circle cx="702.7" cy="109.6" r="0.85" fill="#2fb7c9"/><circle cx="710.0" cy="116.8" r="1.44" fill="#2fb7c9"/><circle cx="698.9" cy="107.4" r="0.85" fill="#1f7fb0"/><circle cx="694.6" cy="118.7" r="0.89" fill="#39c58f"/><circle cx="699.2" cy="125.5" r="1.20" fill="#2fb7c9"/><circle cx="705.2" cy="137.2" r="1.19" fill="#2fb7c9"/><circle cx="696.1" cy="118.5" r="0.88" fill="#39c58f"/><circle cx="702.1" cy="131.8" r="0.87" fill="#27a0b8"/><circle cx="711.2" cy="110.8" r="1.18" fill="#2fb7c9"/><circle cx="693.7" cy="106.5" r="1.15" fill="#27a0b8"/><circle cx="709.8" cy="130.5" r="1.21" fill="#1f7fb0"/><circle cx="707.1" cy="114.5" r="1.29" fill="#27a0b8"/><circle cx="699.9" cy="123.7" r="1.15" fill="#39c58f"/><circle cx="703.3" cy="119.5" r="1.49" fill="#39c58f"/><circle cx="695.6" cy="118.5" r="0.91" fill="#3fd0c0"/><circle cx="708.4" cy="105.8" r="1.34" fill="#2fb7c9"/><circle cx="711.3" cy="133.8" r="1.04" fill="#3fd0c0"/><circle cx="703.6" cy="121.1" r="0.85" fill="#1f7fb0"/><circle cx="694.7" cy="113.5" r="0.84" fill="#2fb7c9"/><circle cx="715.7" cy="126.2" r="1.00" fill="#1f7fb0"/><circle cx="704.8" cy="126.9" r="1.46" fill="#2fb7c9"/><circle cx="703.8" cy="125.0" r="0.84" fill="#1f7fb0"/><circle cx="718.0" cy="108.8" r="1.08" fill="#27a0b8"/><circle cx="723.1" cy="121.1" r="1.11" fill="#27a0b8"/><circle cx="710.5" cy="134.1" r="1.40" fill="#1f7fb0"/><circle cx="701.1" cy="118.4" r="1.28" fill="#3fd0c0"/><circle cx="704.6" cy="112.2" r="0.92" fill="#2fb7c9"/><circle cx="699.5" cy="112.3" r="1.38" fill="#1f7fb0"/><circle cx="697.8" cy="113.9" r="1.09" fill="#27a0b8"/><circle cx="704.2" cy="123.5" r="1.28" fill="#27a0b8"/><circle cx="709.3" cy="125.2" r="1.12" fill="#2fb7c9"/><circle cx="721.5" cy="136.4" r="1.07" fill="#39c58f"/><circle cx="705.3" cy="108.0" r="0.84" fill="#1f7fb0"/><circle cx="693.8" cy="111.5" r="0.88" fill="#27a0b8"/><circle cx="712.2" cy="107.9" r="0.91" fill="#39c58f"/><circle cx="695.0" cy="116.7" r="0.85" fill="#2fb7c9"/><circle cx="698.7" cy="117.1" r="1.47" fill="#3fd0c0"/><circle cx="712.3" cy="120.4" r="1.39" fill="#2fb7c9"/><circle cx="725.8" cy="120.1" r="1.02" fill="#1f7fb0"/><circle cx="696.5" cy="129.6" r="1.14" fill="#3fd0c0"/><circle cx="715.4" cy="121.8" r="1.47" fill="#27a0b8"/><circle cx="709.7" cy="109.4" r="1.44" fill="#39c58f"/><circle cx="717.7" cy="114.5" r="1.29" fill="#2fb7c9"/><circle cx="700.5" cy="116.8" r="1.05" fill="#27a0b8"/><circle cx="699.2" cy="122.6" r="1.03" fill="#39c58f"/><circle cx="699.2" cy="131.7" r="1.36" fill="#27a0b8"/><circle cx="719.7" cy="129.3" r="0.94" fill="#27a0b8"/><circle cx="708.5" cy="129.0" r="1.35" fill="#2fb7c9"/><circle cx="707.8" cy="111.0" r="1.47" fill="#39c58f"/><circle cx="706.9" cy="135.9" r="1.47" fill="#3fd0c0"/><circle cx="704.1" cy="111.9" r="1.13" fill="#27a0b8"/><circle cx="703.2" cy="120.7" r="1.39" fill="#39c58f"/><circle cx="708.0" cy="126.4" r="1.38" fill="#2fb7c9"/><circle cx="695.6" cy="117.5" r="1.13" fill="#27a0b8"/><circle cx="697.7" cy="130.9" r="0.86" fill="#3fd0c0"/><circle cx="724.1" cy="128.7" r="1.08" fill="#1f7fb0"/><circle cx="724.2" cy="128.8" r="1.50" fill="#27a0b8"/><circle cx="692.5" cy="124.3" r="1.36" fill="#1f7fb0"/><circle cx="696.5" cy="132.2" r="1.26" fill="#1f7fb0"/><circle cx="703.6" cy="122.9" r="0.81" fill="#27a0b8"/><circle cx="719.1" cy="128.8" r="1.17" fill="#2fb7c9"/><circle cx="723.7" cy="119.0" r="1.38" fill="#27a0b8"/><circle cx="698.8" cy="112.9" r="1.15" fill="#3fd0c0"/><circle cx="717.8" cy="115.4" r="1.09" fill="#39c58f"/><circle cx="696.0" cy="135.0" r="1.43" fill="#3fd0c0"/><circle cx="714.4" cy="131.8" r="1.09" fill="#39c58f"/><circle cx="723.2" cy="121.3" r="0.91" fill="#39c58f"/><circle cx="709.1" cy="133.7" r="1.23" fill="#27a0b8"/><circle cx="718.3" cy="109.5" r="1.13" fill="#27a0b8"/><circle cx="716.5" cy="123.1" r="1.28" fill="#3fd0c0"/><circle cx="709.8" cy="120.7" r="1.42" fill="#2fb7c9"/><circle cx="693.5" cy="110.9" r="1.34" fill="#2fb7c9"/><circle cx="709.0" cy="123.3" r="1.11" fill="#2fb7c9"/><circle cx="712.6" cy="121.4" r="0.94" fill="#39c58f"/><circle cx="701.1" cy="121.5" r="1.16" fill="#1f7fb0"/><circle cx="700.0" cy="122.0" r="1.45" fill="#3fd0c0"/><circle cx="722.3" cy="111.3" r="0.90" fill="#1f7fb0"/><circle cx="695.7" cy="119.3" r="1.27" fill="#2fb7c9"/><circle cx="706.3" cy="111.6" r="1.35" fill="#3fd0c0"/><circle cx="722.4" cy="109.7" r="0.90" fill="#3fd0c0"/><circle cx="722.0" cy="136.9" r="1.32" fill="#27a0b8"/><circle cx="694.7" cy="134.1" r="1.49" fill="#27a0b8"/><circle cx="720.2" cy="109.9" r="1.50" fill="#1f7fb0"/><circle cx="705.4" cy="118.6" r="1.02" fill="#3fd0c0"/><circle cx="716.4" cy="105.2" r="1.12" fill="#39c58f"/><circle cx="715.8" cy="117.4" r="1.24" fill="#39c58f"/><circle cx="709.2" cy="106.7" r="1.48" fill="#27a0b8"/><circle cx="695.1" cy="113.4" r="1.43" fill="#2fb7c9"/><circle cx="697.8" cy="129.8" r="1.39" fill="#1f7fb0"/><circle cx="714.8" cy="136.2" r="0.90" fill="#1f7fb0"/><circle cx="723.2" cy="123.6" r="0.86" fill="#3fd0c0"/><circle cx="693.5" cy="127.6" r="1.43" fill="#1f7fb0"/><circle cx="700.8" cy="105.1" r="1.36" fill="#2fb7c9"/><circle cx="694.4" cy="133.2" r="0.99" fill="#2fb7c9"/><circle cx="695.7" cy="104.9" r="1.09" fill="#39c58f"/><circle cx="723.1" cy="125.3" r="1.17" fill="#2fb7c9"/><circle cx="699.7" cy="108.2" r="0.98" fill="#27a0b8"/><circle cx="697.7" cy="135.7" r="1.17" fill="#3fd0c0"/><circle cx="698.6" cy="119.4" r="0.99" fill="#27a0b8"/><circle cx="719.2" cy="137.8" r="0.81" fill="#2fb7c9"/><circle cx="716.8" cy="123.0" r="1.16" fill="#27a0b8"/><circle cx="700.0" cy="119.5" r="1.26" fill="#1f7fb0"/><circle cx="710.3" cy="134.3" r="1.02" fill="#39c58f"/><circle cx="698.9" cy="112.2" r="1.38" fill="#27a0b8"/><circle cx="715.9" cy="125.8" r="1.49" fill="#1f7fb0"/><circle cx="725.4" cy="132.5" r="0.85" fill="#2fb7c9"/><circle cx="717.1" cy="113.1" r="0.84" fill="#27a0b8"/><circle cx="714.5" cy="117.3" r="1.27" fill="#39c58f"/><circle cx="701.2" cy="112.6" r="0.83" fill="#3fd0c0"/><circle cx="697.9" cy="113.5" r="0.98" fill="#2fb7c9"/><circle cx="724.7" cy="137.1" r="1.03" fill="#39c58f"/><circle cx="692.7" cy="134.1" r="1.05" fill="#27a0b8"/><circle cx="691.5" cy="117.3" r="1.00" fill="#1f7fb0"/><circle cx="714.1" cy="112.8" r="0.86" fill="#2fb7c9"/><circle cx="719.7" cy="109.3" r="0.83" fill="#39c58f"/><circle cx="692.3" cy="114.7" r="0.86" fill="#27a0b8"/><circle cx="724.5" cy="133.1" r="1.26" fill="#27a0b8"/><circle cx="716.2" cy="133.9" r="1.34" fill="#1f7fb0"/><circle cx="716.4" cy="121.1" r="1.31" fill="#3fd0c0"/><circle cx="713.7" cy="106.0" r="1.24" fill="#39c58f"/><circle cx="716.8" cy="131.7" r="1.44" fill="#27a0b8"/><circle cx="717.5" cy="123.5" r="1.38" fill="#2fb7c9"/><circle cx="711.7" cy="134.4" r="0.86" fill="#27a0b8"/><circle cx="692.9" cy="125.8" r="1.06" fill="#2fb7c9"/><circle cx="707.1" cy="106.2" r="1.24" fill="#2fb7c9"/><circle cx="715.0" cy="120.9" r="1.12" fill="#2fb7c9"/><circle cx="693.9" cy="135.7" r="0.86" fill="#39c58f"/><circle cx="709.6" cy="129.5" r="0.98" fill="#1f7fb0"/><circle cx="694.1" cy="113.4" r="0.96" fill="#27a0b8"/><circle cx="713.9" cy="119.9" r="0.85" fill="#1f7fb0"/><circle cx="722.9" cy="114.1" r="1.23" fill="#2fb7c9"/><circle cx="713.7" cy="107.1" r="1.03" fill="#27a0b8"/><circle cx="714.0" cy="127.7" r="1.20" fill="#39c58f"/><circle cx="691.9" cy="106.5" r="1.48" fill="#3fd0c0"/><circle cx="694.9" cy="111.8" r="1.00" fill="#1f7fb0"/><circle cx="709.3" cy="120.1" r="1.34" fill="#1f7fb0"/><circle cx="725.8" cy="122.9" r="1.48" fill="#3fd0c0"/><circle cx="723.8" cy="105.1" r="0.85" fill="#1f7fb0"/><circle cx="709.0" cy="137.8" r="1.07" fill="#3fd0c0"/><circle cx="723.1" cy="135.7" r="1.21" fill="#2fb7c9"/><circle cx="696.4" cy="122.1" r="0.89" fill="#3fd0c0"/><circle cx="719.8" cy="121.5" r="1.29" fill="#2fb7c9"/><circle cx="699.5" cy="134.6" r="1.08" fill="#1f7fb0"/><circle cx="697.0" cy="136.3" r="1.08" fill="#1f7fb0"/><circle cx="716.6" cy="118.4" r="1.02" fill="#1f7fb0"/><circle cx="720.5" cy="104.6" r="1.39" fill="#3fd0c0"/><circle cx="695.6" cy="135.5" r="1.43" fill="#2fb7c9"/><circle cx="701.5" cy="117.0" r="1.07" fill="#1f7fb0"/><circle cx="721.5" cy="107.1" r="1.33" fill="#1f7fb0"/><circle cx="721.0" cy="113.9" r="1.38" fill="#2fb7c9"/></g>
</g>
<g id="panelB">
<text class="ss" x="2.5" y="157.3" font-size="21" font-weight="bold">B</text>
<rect x="25" y="161" width="196" height="187" fill="#000"/>
<rect x="84" y="196" width="129.500" height="144.500" fill="#272727"/>
<rect x="84" y="196" width="129.500" height="144.500" fill="#fff" filter="url(#plateTex)" opacity="0.5"/>
<circle cx="95.4" cy="205.3" r="6.2" fill="url(#wO)"/><circle cx="110.6" cy="205.3" r="5.6" fill="url(#wY)"/><rect x="119.4" y="199.0" width="12.600" height="12.600" rx="4" fill="url(#wg)"/><circle cx="124.1" cy="203.7" r="0.600" fill="#b4b4b4"/><circle cx="127.3" cy="203.7" r="0.600" fill="#b4b4b4"/><circle cx="124.1" cy="206.9" r="0.600" fill="#b4b4b4"/><circle cx="127.3" cy="206.9" r="0.600" fill="#b4b4b4"/><rect x="134.7" y="199.0" width="12.600" height="12.600" rx="4" fill="url(#wg)"/><circle cx="139.4" cy="203.7" r="0.600" fill="#b4b4b4"/><circle cx="142.6" cy="203.7" r="0.600" fill="#b4b4b4"/><circle cx="139.4" cy="206.9" r="0.600" fill="#b4b4b4"/><circle cx="142.6" cy="206.9" r="0.600" fill="#b4b4b4"/><rect x="150.0" y="199.0" width="12.600" height="12.600" rx="4" fill="url(#wg)"/><circle cx="154.7" cy="203.7" r="0.600" fill="#b4b4b4"/><circle cx="157.9" cy="203.7" r="0.600" fill="#b4b4b4"/><circle cx="154.7" cy="206.9" r="0.600" fill="#b4b4b4"/><circle cx="157.9" cy="206.9" r="0.600" fill="#b4b4b4"/><rect x="165.5" y="199.0" width="12.600" height="12.600" rx="4" fill="url(#wg)"/><circle cx="170.2" cy="203.7" r="0.600" fill="#b4b4b4"/><circle cx="173.4" cy="203.7" r="0.600" fill="#b4b4b4"/><circle cx="170.2" cy="206.9" r="0.600" fill="#b4b4b4"/><circle cx="173.4" cy="206.9" r="0.600" fill="#b4b4b4"/><rect x="181.0" y="199.0" width="12.600" height="12.600" rx="4" fill="url(#wg)"/><circle cx="185.7" cy="203.7" r="0.600" fill="#b4b4b4"/><circle cx="188.9" cy="203.7" r="0.600" fill="#b4b4b4"/><circle cx="185.7" cy="206.9" r="0.600" fill="#b4b4b4"/><circle cx="188.9" cy="206.9" r="0.600" fill="#b4b4b4"/><rect x="196.7" y="199.0" width="12.600" height="12.600" rx="4" fill="url(#wg)"/><circle cx="201.4" cy="203.7" r="0.600" fill="#b4b4b4"/><circle cx="204.6" cy="203.7" r="0.600" fill="#b4b4b4"/><circle cx="201.4" cy="206.9" r="0.600" fill="#b4b4b4"/><circle cx="204.6" cy="206.9" r="0.600" fill="#b4b4b4"/><circle cx="95.4" cy="220.7" r="6.2" fill="url(#wO)"/><circle cx="110.6" cy="220.7" r="5.2" fill="url(#wY)"/><rect x="119.4" y="214.4" width="12.600" height="12.600" rx="4" fill="url(#wg)"/><circle cx="124.1" cy="219.1" r="0.600" fill="#b4b4b4"/><circle cx="127.3" cy="219.1" r="0.600" fill="#b4b4b4"/><circle cx="124.1" cy="222.3" r="0.600" fill="#b4b4b4"/><circle cx="127.3" cy="222.3" r="0.600" fill="#b4b4b4"/><rect x="134.7" y="214.4" width="12.600" height="12.600" rx="4" fill="url(#wg)"/><circle cx="139.4" cy="219.1" r="0.600" fill="#b4b4b4"/><circle cx="142.6" cy="219.1" r="0.600" fill="#b4b4b4"/><circle cx="139.4" cy="222.3" r="0.600" fill="#b4b4b4"/><circle cx="142.6" cy="222.3" r="0.600" fill="#b4b4b4"/><rect x="150.0" y="214.4" width="12.600" height="12.600" rx="4" fill="url(#wg)"/><circle cx="154.7" cy="219.1" r="0.600" fill="#b4b4b4"/><circle cx="157.9" cy="219.1" r="0.600" fill="#b4b4b4"/><circle cx="154.7" cy="222.3" r="0.600" fill="#b4b4b4"/><circle cx="157.9" cy="222.3" r="0.600" fill="#b4b4b4"/><rect x="165.5" y="214.4" width="12.600" height="12.600" rx="4" fill="url(#wg)"/><circle cx="170.2" cy="219.1" r="0.600" fill="#b4b4b4"/><circle cx="173.4" cy="219.1" r="0.600" fill="#b4b4b4"/><circle cx="170.2" cy="222.3" r="0.600" fill="#b4b4b4"/><circle cx="173.4" cy="222.3" r="0.600" fill="#b4b4b4"/><rect x="181.0" y="214.4" width="12.600" height="12.600" rx="4" fill="url(#wg)"/><circle cx="185.7" cy="219.1" r="0.600" fill="#b4b4b4"/><circle cx="188.9" cy="219.1" r="0.600" fill="#b4b4b4"/><circle cx="185.7" cy="222.3" r="0.600" fill="#b4b4b4"/><circle cx="188.9" cy="222.3" r="0.600" fill="#b4b4b4"/><rect x="196.7" y="214.4" width="12.600" height="12.600" rx="4" fill="url(#wg)"/><circle cx="201.4" cy="219.1" r="0.600" fill="#b4b4b4"/><circle cx="204.6" cy="219.1" r="0.600" fill="#b4b4b4"/><circle cx="201.4" cy="222.3" r="0.600" fill="#b4b4b4"/><circle cx="204.6" cy="222.3" r="0.600" fill="#b4b4b4"/><circle cx="95.4" cy="236.2" r="6.2" fill="url(#wO)"/><circle cx="110.6" cy="236.2" r="4.8" fill="url(#wY)"/><rect x="119.4" y="229.9" width="12.600" height="12.600" rx="4" fill="url(#wg)"/><circle cx="124.1" cy="234.6" r="0.600" fill="#b4b4b4"/><circle cx="127.3" cy="234.6" r="0.600" fill="#b4b4b4"/><circle cx="124.1" cy="237.8" r="0.600" fill="#b4b4b4"/><circle cx="127.3" cy="237.8" r="0.600" fill="#b4b4b4"/><rect x="134.7" y="229.9" width="12.600" height="12.600" rx="4" fill="url(#wg)"/><circle cx="139.4" cy="234.6" r="0.600" fill="#b4b4b4"/><circle cx="142.6" cy="234.6" r="0.600" fill="#b4b4b4"/><circle cx="139.4" cy="237.8" r="0.600" fill="#b4b4b4"/><circle cx="142.6" cy="237.8" r="0.600" fill="#b4b4b4"/><rect x="150.0" y="229.9" width="12.600" height="12.600" rx="4" fill="url(#wg)"/><circle cx="154.7" cy="234.6" r="0.600" fill="#b4b4b4"/><circle cx="157.9" cy="234.6" r="0.600" fill="#b4b4b4"/><circle cx="154.7" cy="237.8" r="0.600" fill="#b4b4b4"/><circle cx="157.9" cy="237.8" r="0.600" fill="#b4b4b4"/><rect x="165.5" y="229.9" width="12.600" height="12.600" rx="4" fill="url(#wg)"/><circle cx="170.2" cy="234.6" r="0.600" fill="#b4b4b4"/><circle cx="173.4" cy="234.6" r="0.600" fill="#b4b4b4"/><circle cx="170.2" cy="237.8" r="0.600" fill="#b4b4b4"/><circle cx="173.4" cy="237.8" r="0.600" fill="#b4b4b4"/><rect x="181.0" y="229.9" width="12.600" height="12.600" rx="4" fill="url(#wg)"/><circle cx="185.7" cy="234.6" r="0.600" fill="#b4b4b4"/><circle cx="188.9" cy="234.6" r="0.600" fill="#b4b4b4"/><circle cx="185.7" cy="237.8" r="0.600" fill="#b4b4b4"/><circle cx="188.9" cy="237.8" r="0.600" fill="#b4b4b4"/><rect x="196.7" y="229.9" width="12.600" height="12.600" rx="4" fill="url(#wg)"/><circle cx="201.4" cy="234.6" r="0.600" fill="#b4b4b4"/><circle cx="204.6" cy="234.6" r="0.600" fill="#b4b4b4"/><circle cx="201.4" cy="237.8" r="0.600" fill="#b4b4b4"/><circle cx="204.6" cy="237.8" r="0.600" fill="#b4b4b4"/><circle cx="95.4" cy="251.7" r="6.2" fill="url(#wR)"/><circle cx="110.6" cy="251.7" r="6.2" fill="url(#wR)"/><circle cx="125.7" cy="251.7" r="6.2" fill="url(#wR)"/><circle cx="141.0" cy="251.7" r="6.2" fill="url(#wR)"/><circle cx="156.3" cy="251.7" r="6.2" fill="url(#wO)"/><circle cx="171.8" cy="251.7" r="6.2" fill="url(#wYO)"/><circle cx="187.3" cy="251.7" r="4.6" fill="url(#wY)"/><rect x="196.7" y="245.4" width="12.600" height="12.600" rx="4" fill="url(#wg)"/><circle cx="201.4" cy="250.1" r="0.600" fill="#b4b4b4"/><circle cx="204.6" cy="250.1" r="0.600" fill="#b4b4b4"/><circle cx="201.4" cy="253.3" r="0.600" fill="#b4b4b4"/><circle cx="204.6" cy="253.3" r="0.600" fill="#b4b4b4"/><circle cx="95.4" cy="267.4" r="6.2" fill="url(#wR)"/><circle cx="110.6" cy="267.4" r="6.2" fill="url(#wD)"/><circle cx="125.7" cy="267.4" r="6.2" fill="url(#wR)"/><circle cx="141.0" cy="267.4" r="6.2" fill="url(#wR)"/><circle cx="156.3" cy="267.4" r="6.2" fill="url(#wR)"/><circle cx="171.8" cy="267.4" r="6.0" fill="url(#wYO)"/><circle cx="187.3" cy="267.4" r="6.2" fill="url(#wY)"/><rect x="196.7" y="261.1" width="12.600" height="12.600" rx="4" fill="url(#wg)"/><circle cx="201.4" cy="265.8" r="0.600" fill="#b4b4b4"/><circle cx="204.6" cy="265.8" r="0.600" fill="#b4b4b4"/><circle cx="201.4" cy="269.0" r="0.600" fill="#b4b4b4"/><circle cx="204.6" cy="269.0" r="0.600" fill="#b4b4b4"/><circle cx="95.4" cy="283.0" r="6.2" fill="url(#wR)"/><circle cx="110.6" cy="283.0" r="6.2" fill="url(#wR)"/><circle cx="125.7" cy="283.0" r="6.2" fill="url(#wR)"/><circle cx="141.0" cy="283.0" r="6.2" fill="url(#wR)"/><circle cx="156.3" cy="283.0" r="6.2" fill="url(#wR)"/><circle cx="171.8" cy="283.0" r="6.0" fill="url(#wYO)"/><circle cx="187.3" cy="283.0" r="6.2" fill="url(#wY)"/><rect x="196.7" y="276.7" width="12.600" height="12.600" rx="4" fill="url(#wg)"/><circle cx="201.4" cy="281.4" r="0.600" fill="#b4b4b4"/><circle cx="204.6" cy="281.4" r="0.600" fill="#b4b4b4"/><circle cx="201.4" cy="284.6" r="0.600" fill="#b4b4b4"/><circle cx="204.6" cy="284.6" r="0.600" fill="#b4b4b4"/><circle cx="95.4" cy="298.6" r="6.2" fill="url(#wR)"/><circle cx="110.6" cy="298.6" r="6.2" fill="url(#wD)"/><circle cx="125.7" cy="298.6" r="6.2" fill="url(#wD)"/><circle cx="141.0" cy="298.6" r="6.2" fill="url(#wD)"/><circle cx="156.3" cy="298.6" r="6.2" fill="url(#wR)"/><circle cx="171.8" cy="298.6" r="6.2" fill="url(#wR)"/><circle cx="187.3" cy="298.6" r="6.2" fill="url(#wR)"/><circle cx="203.0" cy="298.6" r="6.2" fill="url(#wYO)"/><circle cx="95.4" cy="314.1" r="6.2" fill="url(#wR)"/><circle cx="110.6" cy="314.1" r="6.2" fill="url(#wD)"/><circle cx="125.7" cy="314.1" r="6.2" fill="url(#wD)"/><circle cx="141.0" cy="314.1" r="6.2" fill="url(#wR)"/><circle cx="156.3" cy="314.1" r="6.2" fill="url(#wR)"/><circle cx="171.8" cy="314.1" r="6.2" fill="url(#wR)"/><circle cx="187.3" cy="314.1" r="6.2" fill="url(#wR)"/><circle cx="203.0" cy="314.1" r="6.2" fill="url(#wYO)"/><circle cx="95.4" cy="329.8" r="6.2" fill="url(#wO)"/><circle cx="110.6" cy="329.8" r="6.2" fill="url(#wR)"/><circle cx="125.7" cy="329.8" r="6.2" fill="url(#wR)"/><circle cx="141.0" cy="329.8" r="6.2" fill="url(#wR)"/><circle cx="156.3" cy="329.8" r="6.2" fill="url(#wR)"/><circle cx="171.8" cy="329.8" r="6.2" fill="url(#wR)"/><circle cx="187.3" cy="329.8" r="6.2" fill="url(#wR)"/><circle cx="203.0" cy="329.8" r="6.2" fill="url(#wY)"/>
<text class="ss" transform="translate(99.0 193) rotate(-90)" font-size="11.500" fill="#ececec">6 h</text>
<text class="ss" transform="translate(114.2 193) rotate(-90)" font-size="11.500" fill="#ececec">12</text>
<text class="ss" transform="translate(129.3 193) rotate(-90)" font-size="11.500" fill="#ececec">h d</text>
<text class="ss" transform="translate(144.6 193) rotate(-90)" font-size="11.500" fill="#ececec">3 d</text>
<text class="ss" transform="translate(159.9 193) rotate(-90)" font-size="11.500" fill="#ececec">5 d</text>
<text class="ss" transform="translate(175.4 193) rotate(-90)" font-size="11.500" fill="#ececec">7 d</text>
<text class="ss" transform="translate(190.9 193) rotate(-90)" font-size="11.500" fill="#ececec">14 d</text>
<text class="ss" transform="translate(206.6 193) rotate(-90)" font-size="11.500" fill="#ececec">28 d</text>
<text class="ss" transform="translate(46 208) rotate(28)" x="0" y="8" font-size="11" fill="#fff" textLength="36" lengthAdjust="spacingAndGlyphs">Cy 5.5</text>
<text class="ss" transform="translate(37 251.5) rotate(28)" x="0" y="8" font-size="11" fill="#fff" textLength="54" lengthAdjust="spacingAndGlyphs">Cy 5.5-NP</text>
<text class="ss" transform="translate(30 294.5) rotate(28)" x="0" y="8" font-size="11" fill="#fff" textLength="64" lengthAdjust="spacingAndGlyphs">Cy 5.5-5 NP</text>
<rect x="236" y="139.800" width="65" height="42.500" fill="#fff" stroke="#111" stroke-width="1.300"/>
<text class="ss" x="238.8" y="150.8" font-size="11.2" textLength="28.2" lengthAdjust="spacingAndGlyphs" fill="#1a1a1a">Image</text>
<text class="ss" x="238.8" y="164.6" font-size="11.2" textLength="57.2" lengthAdjust="spacingAndGlyphs" fill="#1a1a1a">Min=6.19e8</text>
<text class="ss" x="238.8" y="177.6" font-size="11.2" textLength="58.7" lengthAdjust="spacingAndGlyphs" fill="#1a1a1a">Max=4.81e9</text>
<rect x="238" y="188" width="7.300" height="110.300" fill="url(#cbar)"/>
<path d="M245.300 190.5 h1.8 M245.300 196.9 h1.8 M245.300 203.3 h1.8 M245.300 209.7 h3.2 M245.300 216.1 h1.8 M245.300 222.5 h1.8 M245.300 228.9 h1.8 M245.300 235.3 h1.8 M245.300 241.7 h3.2 M245.300 248.1 h1.8 M245.300 254.5 h1.8 M245.300 260.9 h1.8 M245.300 267.3 h1.8 M245.300 273.7 h3.2 M245.300 280.1 h1.8 M245.300 286.5 h1.8 M245.300 292.9 h1.8 M245.300 299.3 h1.8" stroke="#666" stroke-width="0.500" fill="none"/>
<text class="ss" x="252.8" y="213.3" font-size="6" fill="#555">40</text>
<text class="ss" x="252.8" y="245.3" font-size="6" fill="#555">30</text>
<text class="ss" x="252.8" y="277.5" font-size="6" fill="#555">20</text>
<text class="ss" x="264.5" y="244.3" font-size="5.4" fill="#555">x10</text>
<text class="ss" x="273.8" y="241.4" font-size="4" fill="#555">9</text>
<text class="ss" x="235.0" y="310.0" font-size="11.2" textLength="64.0" lengthAdjust="spacingAndGlyphs" fill="#1a1a1a">p/sec/cm²/sr</text>
<rect x="233.300" y="317" width="63.700" height="43" fill="#fff" stroke="#111" stroke-width="1.300"/>
<text class="ss" x="235.5" y="328.0" font-size="11.2" textLength="42.0" lengthAdjust="spacingAndGlyphs" fill="#1a1a1a">Color Bar</text>
<text class="ss" x="235.5" y="341.9" font-size="11.2" textLength="57.0" lengthAdjust="spacingAndGlyphs" fill="#1a1a1a">Min=1.34e9</text>
<text class="ss" x="235.5" y="355.5" font-size="11.2" textLength="58.0" lengthAdjust="spacingAndGlyphs" fill="#1a1a1a">Max=4.81e9</text>
</g>
<g id="panelC">
<text class="ss" x="334.0" y="162.3" font-size="21" font-weight="bold">C</text>
<text class="ss" transform="translate(338.800 307) rotate(-90)" font-size="10.300" fill="#1a1a1a" textLength="110" lengthAdjust="spacingAndGlyphs">Avg radiant efficiency</text>
<text class="ss" transform="translate(352.500 293.500) rotate(-90)" font-size="10" fill="#1a1a1a" textLength="84" lengthAdjust="spacingAndGlyphs">×10<tspan dy="-3" font-size="6.500">7</tspan><tspan dy="3">(p/s/cm</tspan><tspan dy="-3" font-size="6.500">2</tspan><tspan dy="3">/sr)</tspan></text>
<path d="M388 201.8 V325.7 H726" fill="none" stroke="#111" stroke-width="1.300"/>
<text class="ss" x="380.5" y="329.5" font-size="10.8" text-anchor="end" fill="#1a1a1a">0</text>
<text class="ss" x="380.5" y="298.6" font-size="10.8" text-anchor="end" fill="#1a1a1a">50</text>
<text class="ss" x="380.5" y="267.8" font-size="10.8" text-anchor="end" fill="#1a1a1a">100</text>
<text class="ss" x="380.5" y="236.9" font-size="10.8" text-anchor="end" fill="#1a1a1a">150</text>
<text class="ss" x="380.5" y="206.1" font-size="10.8" text-anchor="end" fill="#1a1a1a">200</text>
<path d="M384.300 325.7 H388 M384.300 294.8 H388 M384.300 264.0 H388 M384.300 233.1 H388 M384.300 202.3 H388" stroke="#111" stroke-width="1.200" fill="none"/>
<rect x="414.800" y="186.300" width="9.200" height="5.600" fill="#a9c3e3" stroke="#111" stroke-width="1"/>
<text class="ss" x="431.0" y="193.0" font-size="10.5" textLength="27.0" lengthAdjust="spacingAndGlyphs" fill="#1a1a1a">cy5.5</text>
<rect x="495.800" y="186.300" width="9.400" height="5.600" fill="#fbdcdf" stroke="#111" stroke-width="1"/>
<text class="ss" x="517.0" y="193.0" font-size="10.5" textLength="46.7" lengthAdjust="spacingAndGlyphs" fill="#1a1a1a">cy5.5-NP</text>
<rect x="603.800" y="187.600" width="10" height="5.600" fill="#c0181f" stroke="#111" stroke-width="1"/>
<text class="ss" x="627.4" y="194.0" font-size="10.5" textLength="55.6" lengthAdjust="spacingAndGlyphs" fill="#1a1a1a">cy5.5-5 NP</text>
<rect x="395.4" y="257.2" width="6.8" height="68.5" fill="#a9c3e3" stroke="#111" stroke-width="1.100"/><path d="M398.8 255.4 V259.1 M396.6 255.4 h4.400 M396.6 259.1 h4.400" stroke="#111" stroke-width="1" fill="none"/><path d="M395.3 259.2 L398.8 253.4 L402.3 259.2 Z" fill="#111"/><rect x="406.6" y="243.3" width="6.8" height="82.4" fill="#fbdcdf" stroke="#111" stroke-width="1.100"/><path d="M410.0 240.9 V245.8 M407.8 240.9 h4.400 M407.8 245.8 h4.400" stroke="#111" stroke-width="1" fill="none"/><path d="M406.5 245.3 L410.0 239.5 L413.5 245.3 Z" fill="#111"/><rect x="417.8" y="243.0" width="6.9" height="82.7" fill="#c0181f" stroke="#111" stroke-width="1.100"/><path d="M421.2 238.7 V247.3 M419.1 238.7 h4.400 M419.1 247.3 h4.400" stroke="#111" stroke-width="1" fill="none"/><path d="M417.8 245.0 L421.2 239.2 L424.8 245.0 Z" fill="#111"/><rect x="436.8" y="280.0" width="6.9" height="45.7" fill="#a9c3e3" stroke="#111" stroke-width="1.100"/><path d="M440.2 278.5 V281.6 M438.1 278.5 h4.400 M438.1 281.6 h4.400" stroke="#111" stroke-width="1" fill="none"/><path d="M436.8 282.0 L440.2 276.2 L443.8 282.0 Z" fill="#111"/><rect x="448.2" y="238.4" width="7.0" height="87.3" fill="#fbdcdf" stroke="#111" stroke-width="1.100"/><path d="M451.7 233.5 V243.3 M449.5 233.5 h4.400 M449.5 243.3 h4.400" stroke="#111" stroke-width="1" fill="none"/><path d="M448.2 240.4 L451.7 234.6 L455.2 240.4 Z" fill="#111"/><rect x="459.9" y="234.4" width="6.9" height="91.3" fill="#c0181f" stroke="#111" stroke-width="1.100"/><path d="M463.4 230.1 V238.7 M461.2 230.1 h4.400 M461.2 238.7 h4.400" stroke="#111" stroke-width="1" fill="none"/><path d="M459.9 236.4 L463.4 230.6 L466.9 236.4 Z" fill="#111"/><path d="M482.0 324.2 V325.4 M479.8 324.2 h4.400 M479.8 325.4 h4.400" stroke="#111" stroke-width="1" fill="none"/><path d="M478.5 326.8 L482.0 321.0 L485.5 326.8 Z" fill="#111"/><rect x="490.2" y="241.2" width="7.1" height="84.5" fill="#fbdcdf" stroke="#111" stroke-width="1.100"/><path d="M493.8 236.9 V245.5 M491.6 236.9 h4.400 M491.6 245.5 h4.400" stroke="#111" stroke-width="1" fill="none"/><path d="M490.2 243.2 L493.8 237.4 L497.2 243.2 Z" fill="#111"/><rect x="502.0" y="239.6" width="7.0" height="86.1" fill="#c0181f" stroke="#111" stroke-width="1.100"/><path d="M505.5 235.3 V243.9 M503.3 235.3 h4.400 M503.3 243.9 h4.400" stroke="#111" stroke-width="1" fill="none"/><path d="M502.0 241.6 L505.5 235.8 L509.0 241.6 Z" fill="#111"/><rect x="532.3" y="248.6" width="7.0" height="77.1" fill="#fbdcdf" stroke="#111" stroke-width="1.100"/><path d="M535.8 245.5 V251.7 M533.6 245.5 h4.400 M533.6 251.7 h4.400" stroke="#111" stroke-width="1" fill="none"/><path d="M532.3 250.6 L535.8 244.8 L539.3 250.6 Z" fill="#111"/><rect x="544.1" y="238.4" width="7.2" height="87.3" fill="#c0181f" stroke="#111" stroke-width="1.100"/><path d="M547.7 233.5 V243.3 M545.5 233.5 h4.400 M545.5 243.3 h4.400" stroke="#111" stroke-width="1" fill="none"/><path d="M544.2 240.4 L547.7 234.6 L551.2 240.4 Z" fill="#111"/><rect x="574.7" y="264.0" width="7.1" height="61.7" fill="#fbdcdf" stroke="#111" stroke-width="1.100"/><path d="M578.2 262.1 V265.9 M576.0 262.1 h4.400 M576.0 265.9 h4.400" stroke="#111" stroke-width="1" fill="none"/><path d="M574.8 266.0 L578.2 260.2 L581.8 266.0 Z" fill="#111"/><rect x="586.3" y="241.2" width="7.0" height="84.5" fill="#c0181f" stroke="#111" stroke-width="1.100"/><path d="M589.8 237.5 V244.9 M587.6 237.5 h4.400 M587.6 244.9 h4.400" stroke="#111" stroke-width="1" fill="none"/><path d="M586.3 243.2 L589.8 237.4 L593.3 243.2 Z" fill="#111"/><rect x="617.4" y="282.8" width="6.9" height="42.9" fill="#fbdcdf" stroke="#111" stroke-width="1.100"/><path d="M620.8 280.4 V285.3 M618.6 280.4 h4.400 M618.6 285.3 h4.400" stroke="#111" stroke-width="1" fill="none"/><path d="M617.3 284.8 L620.8 279.0 L624.3 284.8 Z" fill="#111"/><rect x="628.4" y="244.3" width="7.1" height="81.4" fill="#c0181f" stroke="#111" stroke-width="1.100"/><path d="M632.0 241.2 V247.3 M629.8 241.2 h4.400 M629.8 247.3 h4.400" stroke="#111" stroke-width="1" fill="none"/><path d="M628.5 246.3 L632.0 240.5 L635.5 246.3 Z" fill="#111"/><rect x="659.1" y="299.8" width="6.8" height="25.9" fill="#fbdcdf" stroke="#111" stroke-width="1.100"/><path d="M662.5 296.7 V302.9 M660.3 296.7 h4.400 M660.3 302.9 h4.400" stroke="#111" stroke-width="1" fill="none"/><path d="M659.0 301.8 L662.5 296.0 L666.0 301.8 Z" fill="#111"/><rect x="670.3" y="253.8" width="7.1" height="71.9" fill="#c0181f" stroke="#111" stroke-width="1.100"/><path d="M673.8 251.4 V256.3 M671.6 251.4 h4.400 M671.6 256.3 h4.400" stroke="#111" stroke-width="1" fill="none"/><path d="M670.3 255.8 L673.8 250.0 L677.3 255.8 Z" fill="#111"/><path d="M705.0 324.7 V325.7 M702.8 324.7 h4.400 M702.8 325.7 h4.400" stroke="#111" stroke-width="1" fill="none"/><path d="M701.5 327.2 L705.0 321.4 L708.5 327.2 Z" fill="#111"/><rect x="712.6" y="283.1" width="7.1" height="42.6" fill="#c0181f" stroke="#111" stroke-width="1.100"/><path d="M716.2 281.3 V285.0 M714.0 281.3 h4.400 M714.0 285.0 h4.400" stroke="#111" stroke-width="1" fill="none"/><path d="M712.7 285.1 L716.2 279.3 L719.7 285.1 Z" fill="#111"/>
<text class="ss" x="410.3" y="343.3" font-size="10.8" text-anchor="middle" fill="#1a1a1a">6 h</text>
<text class="ss" x="453.5" y="343.3" font-size="10.8" text-anchor="middle" fill="#1a1a1a">12 h</text>
<text class="ss" x="495.2" y="343.3" font-size="10.8" text-anchor="middle" fill="#1a1a1a">1 d</text>
<text class="ss" x="536.8" y="343.3" font-size="10.8" text-anchor="middle" fill="#1a1a1a">3 d</text>
<text class="ss" x="578.6" y="343.3" font-size="10.8" text-anchor="middle" fill="#1a1a1a">5 d</text>
<text class="ss" x="620.5" y="343.3" font-size="10.8" text-anchor="middle" fill="#1a1a1a">7 d</text>
<text class="ss" x="662.2" y="343.3" font-size="10.8" text-anchor="middle" fill="#1a1a1a">14 d</text>
<text class="ss" x="704.0" y="343.3" font-size="10.8" text-anchor="middle" fill="#1a1a1a">28 d</text>
<path d="M398.7 243 V218.6 H416.6 V227.3 M411.4 227.3 H421.4 M440.2 268 V214.5 H458 V220.2 M452 220.2 H464.5 M481.8 320.5 V218.2 H500.2 V226 M494.5 226 H505.5 M535.4 234 V219.2 H547.2 V225.8 M577.9 250 V224.5 H590.2 V230.4 M620.4 270.5 V228 H632.7 V234 M662.6 288 V237.4 H674.4 V243.4 M705.1 308 V266.1 H716.3 V272.2" stroke="#111" stroke-width="1.300" fill="none"/>
<text class="ss" x="407.7" y="218.9" font-size="16.5" text-anchor="middle" font-weight="bold" textLength="20.5" lengthAdjust="spacingAndGlyphs" fill="#111">***</text>
<text class="ss" x="449.0" y="215.2" font-size="16.5" text-anchor="middle" font-weight="bold" textLength="20.5" lengthAdjust="spacingAndGlyphs" fill="#111">***</text>
<text class="ss" x="491.0" y="218.9" font-size="16.5" text-anchor="middle" font-weight="bold" textLength="20.5" lengthAdjust="spacingAndGlyphs" fill="#111">***</text>
<text class="ss" x="541.0" y="220.8" font-size="16.5" text-anchor="middle" font-weight="bold" textLength="20.5" lengthAdjust="spacingAndGlyphs" fill="#111">***</text>
<text class="ss" x="584.0" y="225.8" font-size="16.5" text-anchor="middle" font-weight="bold" textLength="20.5" lengthAdjust="spacingAndGlyphs" fill="#111">***</text>
<text class="ss" x="626.5" y="229.6" font-size="16.5" text-anchor="middle" font-weight="bold" textLength="20.5" lengthAdjust="spacingAndGlyphs" fill="#111">***</text>
<text class="ss" x="668.5" y="238.9" font-size="16.5" text-anchor="middle" font-weight="bold" textLength="20.5" lengthAdjust="spacingAndGlyphs" fill="#111">***</text>
<text class="ss" x="710.8" y="267.1" font-size="16.5" text-anchor="middle" font-weight="bold" textLength="20.5" lengthAdjust="spacingAndGlyphs" fill="#111">***</text>
</g>
<g id="panelE">
<text class="ss" x="605.5" y="387.0" font-size="21" font-weight="bold">E</text>
<path d="M648.3 407.9 V472 H748" fill="none" stroke="#222" stroke-width="0.900"/>
<text class="ss" x="643.8" y="475.9" font-size="11" text-anchor="end" fill="#1a1a1a">0</text>
<text class="ss" x="643.8" y="460.0" font-size="11" text-anchor="end" fill="#1a1a1a">2</text>
<text class="ss" x="643.8" y="444.1" font-size="11" text-anchor="end" fill="#1a1a1a">4</text>
<text class="ss" x="643.8" y="428.2" font-size="11" text-anchor="end" fill="#1a1a1a">6</text>
<text class="ss" x="643.8" y="412.3" font-size="11" text-anchor="end" fill="#1a1a1a">8</text>
<path d="M645.3 472.0 H648.3 M645.3 456.1 H648.3 M645.3 440.2 H648.3 M645.3 424.3 H648.3 M645.3 408.4 H648.3" stroke="#222" stroke-width="0.900" fill="none"/>
<rect x="655.0" y="470.0" width="9.2" height="2.0" fill="#a9c3e3" stroke="#5a1a1a" stroke-width="0.600"/><path d="M659.6 469.4 V470.6 M657.8 469.4 h3.600 M657.8 470.6 h3.600" stroke="#111" stroke-width="0.800" fill="none"/><ellipse cx="659.6" cy="469.8" rx="2.300" ry="1" fill="#111"/><rect x="668.0" y="465.5" width="9.2" height="6.5" fill="#fbdcdf" stroke="#5a1a1a" stroke-width="0.600"/><path d="M672.6 464.5 V466.4 M670.8 464.5 h3.600 M670.8 466.4 h3.600" stroke="#111" stroke-width="0.800" fill="none"/><ellipse cx="672.6" cy="465.3" rx="2.300" ry="1" fill="#111"/><rect x="681.8" y="422.4" width="9.2" height="49.6" fill="#c0181f" stroke="#5a1a1a" stroke-width="0.600"/><path d="M686.4 420.0 V424.8 M684.6 420.0 h3.600 M684.6 424.8 h3.600" stroke="#111" stroke-width="0.800" fill="none"/><ellipse cx="686.4" cy="422.2" rx="2.300" ry="1" fill="#111"/><path d="M708.8 471.4 V471.9 M707.0 471.4 h3.600 M707.0 471.9 h3.600" stroke="#111" stroke-width="0.800" fill="none"/><ellipse cx="708.8" cy="471.5" rx="2.300" ry="1" fill="#111"/><path d="M722.0 471.4 V471.8 M720.2 471.4 h3.600 M720.2 471.8 h3.600" stroke="#111" stroke-width="0.800" fill="none"/><ellipse cx="722.0" cy="471.4" rx="2.300" ry="1" fill="#111"/><rect x="731.4" y="438.8" width="8.4" height="33.2" fill="#c0181f" stroke="#5a1a1a" stroke-width="0.600"/><path d="M735.6 437.6 V440.0 M733.8 437.6 h3.600 M733.8 440.0 h3.600" stroke="#111" stroke-width="0.800" fill="none"/><ellipse cx="735.6" cy="438.6" rx="2.300" ry="1" fill="#111"/>
<text class="ss" x="675.6" y="489.3" font-size="11" text-anchor="middle" fill="#1a1a1a">14 d</text>
<text class="ss" x="723.5" y="489.8" font-size="11" text-anchor="middle" fill="#1a1a1a">28 d</text>
<path d="M657 446.2 H672 M664.6 446.2 V412.1 H686.5 V416.8 M707.2 454.9 H722.1 M714.4 454.9 V426.2 H736.1 V430.8" stroke="#333" stroke-width="0.800" fill="none"/>
<text class="ss" x="675.6" y="410.0" font-size="6.5" text-anchor="middle" font-weight="bold" fill="#222">***</text>
<text class="ss" x="724.6" y="424.4" font-size="6.5" text-anchor="middle" font-weight="bold" fill="#222">***</text>
<text class="ss" transform="translate(613.6 474.5) rotate(-90)" font-size="10.600" fill="#1a1a1a" textLength="71.5" lengthAdjust="spacingAndGlyphs" xml:space="preserve">Relative  CD31</text>
<text class="ss" transform="translate(627.6 466) rotate(-90)" font-size="10.600" fill="#1a1a1a" textLength="53" lengthAdjust="spacingAndGlyphs" xml:space="preserve">level  (fold)</text>
</g>
<g id="panelG">
<text class="ss" x="604.3" y="517.0" font-size="21" font-weight="bold">G</text>
<path d="M645.2 528.2 V592.5 H745" fill="none" stroke="#222" stroke-width="0.900"/>
<text class="ss" x="640.4" y="596.4" font-size="11" text-anchor="end" fill="#1a1a1a">0</text>
<text class="ss" x="640.4" y="580.4" font-size="11" text-anchor="end" fill="#1a1a1a">2</text>
<text class="ss" x="640.4" y="564.5" font-size="11" text-anchor="end" fill="#1a1a1a">4</text>
<text class="ss" x="640.4" y="548.6" font-size="11" text-anchor="end" fill="#1a1a1a">6</text>
<text class="ss" x="640.4" y="532.6" font-size="11" text-anchor="end" fill="#1a1a1a">8</text>
<path d="M642.2 592.5 H645.2 M642.2 576.5 H645.2 M642.2 560.6 H645.2 M642.2 544.7 H645.2 M642.2 528.7 H645.2" stroke="#222" stroke-width="0.900" fill="none"/>
<rect x="652.4" y="591.3" width="9.1" height="1.2" fill="#a9c3e3" stroke="#5a1a1a" stroke-width="0.600"/><path d="M657.0 590.8 V591.8 M655.2 590.8 h3.600 M655.2 591.8 h3.600" stroke="#111" stroke-width="0.800" fill="none"/><ellipse cx="657.0" cy="591.1" rx="2.300" ry="1" fill="#111"/><rect x="665.3" y="583.3" width="9.3" height="9.2" fill="#fbdcdf" stroke="#5a1a1a" stroke-width="0.600"/><path d="M670.0 581.7 V584.9 M668.2 581.7 h3.600 M668.2 584.9 h3.600" stroke="#111" stroke-width="0.800" fill="none"/><ellipse cx="670.0" cy="583.1" rx="2.300" ry="1" fill="#111"/><rect x="679.1" y="542.3" width="9.3" height="50.2" fill="#c0181f" stroke="#5a1a1a" stroke-width="0.600"/><path d="M683.8 540.0 V544.5 M682.0 540.0 h3.600 M682.0 544.5 h3.600" stroke="#111" stroke-width="0.800" fill="none"/><ellipse cx="683.8" cy="542.1" rx="2.300" ry="1" fill="#111"/><path d="M706.8 591.7 V592.3 M705.0 591.7 h3.600 M705.0 592.3 h3.600" stroke="#111" stroke-width="0.800" fill="none"/><ellipse cx="706.8" cy="591.8" rx="2.300" ry="1" fill="#111"/><rect x="714.9" y="590.1" width="9.3" height="2.4" fill="#fbdcdf" stroke="#5a1a1a" stroke-width="0.600"/><path d="M719.5 589.5 V590.7 M717.8 589.5 h3.600 M717.8 590.7 h3.600" stroke="#111" stroke-width="0.800" fill="none"/><ellipse cx="719.5" cy="589.9" rx="2.300" ry="1" fill="#111"/><rect x="728.9" y="568.6" width="9.1" height="23.9" fill="#c0181f" stroke="#5a1a1a" stroke-width="0.600"/><path d="M733.5 567.6 V569.5 M731.7 567.6 h3.600 M731.7 569.5 h3.600" stroke="#111" stroke-width="0.800" fill="none"/><ellipse cx="733.5" cy="568.4" rx="2.300" ry="1" fill="#111"/>
<text class="ss" x="669.0" y="609.9" font-size="11" text-anchor="middle" fill="#1a1a1a">14 d</text>
<text class="ss" x="720.4" y="609.9" font-size="11" text-anchor="middle" fill="#1a1a1a">28 d</text>
<path d="M656 566.9 H667.3 M661.5 566.9 V532.2 H683.9 V536.4 M706.6 577.2 H717.3 M712.2 577.2 V556.6 H733 V561.2" stroke="#333" stroke-width="0.800" fill="none"/>
<text class="ss" x="673.2" y="530.2" font-size="6.5" text-anchor="middle" font-weight="bold" fill="#222">***</text>
<text class="ss" x="722.6" y="555.5" font-size="6.5" text-anchor="middle" font-weight="bold" fill="#222">***</text>
<text class="ss" transform="translate(611.8 604.5) rotate(-90)" font-size="10.600" fill="#1a1a1a" textLength="79.5" lengthAdjust="spacingAndGlyphs" xml:space="preserve">Relative  α-SMA</text>
<text class="ss" transform="translate(625.6 592) rotate(-90)" font-size="10.600" fill="#1a1a1a" textLength="52.5" lengthAdjust="spacingAndGlyphs" xml:space="preserve">level  (fold)</text>
</g>
<g id="panelI">
<text class="ss" x="609.2" y="651.0" font-size="21" font-weight="bold">I</text>
<path d="M646.7 669.5 V734.5 H748" fill="none" stroke="#222" stroke-width="0.900"/>
<text class="ss" x="642.8" y="738.4" font-size="11" text-anchor="end" fill="#1a1a1a">0</text>
<text class="ss" x="642.8" y="725.5" font-size="11" text-anchor="end" fill="#1a1a1a">2</text>
<text class="ss" x="642.8" y="712.6" font-size="11" text-anchor="end" fill="#1a1a1a">4</text>
<text class="ss" x="642.8" y="699.7" font-size="11" text-anchor="end" fill="#1a1a1a">6</text>
<text class="ss" x="642.8" y="686.8" font-size="11" text-anchor="end" fill="#1a1a1a">8</text>
<text class="ss" x="642.8" y="673.9" font-size="11" text-anchor="end" fill="#1a1a1a">10</text>
<path d="M643.7 734.5 H646.7 M643.7 721.6 H646.7 M643.7 708.7 H646.7 M643.7 695.8 H646.7 M643.7 682.9 H646.7 M643.7 670.0 H646.7" stroke="#222" stroke-width="0.900" fill="none"/>
<path d="M658.0 733.9 V734.4 M656.2 733.9 h3.600 M656.2 734.4 h3.600" stroke="#111" stroke-width="0.800" fill="none"/><ellipse cx="658.0" cy="733.9" rx="2.300" ry="1" fill="#111"/><rect x="666.9" y="729.0" width="9.1" height="5.5" fill="#fbdcdf" stroke="#5a1a1a" stroke-width="0.600"/><path d="M671.5 728.2 V729.8 M669.7 728.2 h3.600 M669.7 729.8 h3.600" stroke="#111" stroke-width="0.800" fill="none"/><ellipse cx="671.5" cy="728.8" rx="2.300" ry="1" fill="#111"/><rect x="680.8" y="697.7" width="8.9" height="36.8" fill="#c0181f" stroke="#5a1a1a" stroke-width="0.600"/><path d="M685.2 696.1 V699.3 M683.5 696.1 h3.600 M683.5 699.3 h3.600" stroke="#111" stroke-width="0.800" fill="none"/><ellipse cx="685.2" cy="697.5" rx="2.300" ry="1" fill="#111"/><path d="M708.0 734.0 V734.4 M706.2 734.0 h3.600 M706.2 734.4 h3.600" stroke="#111" stroke-width="0.800" fill="none"/><ellipse cx="708.0" cy="734.0" rx="2.300" ry="1" fill="#111"/><path d="M721.0 733.9 V734.4 M719.2 733.9 h3.600 M719.2 734.4 h3.600" stroke="#111" stroke-width="0.800" fill="none"/><ellipse cx="721.0" cy="733.9" rx="2.300" ry="1" fill="#111"/><rect x="730.4" y="713.9" width="8.7" height="20.6" fill="#c0181f" stroke="#5a1a1a" stroke-width="0.600"/><path d="M734.8 711.3 V716.4 M733.0 711.3 h3.600 M733.0 716.4 h3.600" stroke="#111" stroke-width="0.800" fill="none"/><ellipse cx="734.8" cy="713.7" rx="2.300" ry="1" fill="#111"/>
<text class="ss" x="675.6" y="752.0" font-size="11" text-anchor="middle" fill="#1a1a1a">14 d</text>
<text class="ss" x="723.7" y="752.0" font-size="11" text-anchor="middle" fill="#1a1a1a">28 d</text>
<path d="M656.4 721.7 H671.5 M663.8 721.7 V687 H685.9 V691.2 M706.6 727.7 H721.5 M714.2 727.7 V699.4 H735.5 V703.6" stroke="#333" stroke-width="0.800" fill="none"/>
<text class="ss" x="674.6" y="685.5" font-size="6.5" text-anchor="middle" font-weight="bold" fill="#222">***</text>
<text class="ss" x="724.6" y="697.9" font-size="6.5" text-anchor="middle" font-weight="bold" fill="#222">***</text>
<text class="ss" transform="translate(613.4 740.7) rotate(-90)" font-size="10.600" fill="#1a1a1a" textLength="78.5" lengthAdjust="spacingAndGlyphs" xml:space="preserve">Relative  CD11b</text>
<text class="ss" transform="translate(627.6 727.3) rotate(-90)" font-size="10.600" fill="#1a1a1a" textLength="52.7" lengthAdjust="spacingAndGlyphs" xml:space="preserve">level  (fold)</text>
</g>
<g id="panelK">
<text class="ss" x="605.7" y="775.6" font-size="21" font-weight="bold">K</text>
<path d="M645.6 799.7 V862.2 H745" fill="none" stroke="#222" stroke-width="0.900"/>
<text class="ss" x="641.2" y="866.1" font-size="11" text-anchor="end" fill="#1a1a1a">0</text>
<text class="ss" x="641.2" y="850.6" font-size="11" text-anchor="end" fill="#1a1a1a">2</text>
<text class="ss" x="641.2" y="835.1" font-size="11" text-anchor="end" fill="#1a1a1a">4</text>
<text class="ss" x="641.2" y="819.6" font-size="11" text-anchor="end" fill="#1a1a1a">6</text>
<text class="ss" x="641.2" y="804.1" font-size="11" text-anchor="end" fill="#1a1a1a">8</text>
<path d="M642.6 862.2 H645.6 M642.6 846.7 H645.6 M642.6 831.2 H645.6 M642.6 815.7 H645.6 M642.6 800.2 H645.6" stroke="#222" stroke-width="0.900" fill="none"/>
<path d="M657.5 861.4 V862.0 M655.7 861.4 h3.600 M655.7 862.0 h3.600" stroke="#111" stroke-width="0.800" fill="none"/><ellipse cx="657.5" cy="861.5" rx="2.300" ry="1" fill="#111"/><rect x="666.3" y="855.6" width="8.9" height="6.6" fill="#fbdcdf" stroke="#5a1a1a" stroke-width="0.600"/><path d="M670.8 854.8 V856.4 M669.0 854.8 h3.600 M669.0 856.4 h3.600" stroke="#111" stroke-width="0.800" fill="none"/><ellipse cx="670.8" cy="855.4" rx="2.300" ry="1" fill="#111"/><rect x="679.7" y="817.2" width="9.3" height="45.0" fill="#c0181f" stroke="#5a1a1a" stroke-width="0.600"/><path d="M684.4 814.9 V819.6 M682.6 814.9 h3.600 M682.6 819.6 h3.600" stroke="#111" stroke-width="0.800" fill="none"/><ellipse cx="684.4" cy="817.0" rx="2.300" ry="1" fill="#111"/><path d="M707.1 861.7 V862.1 M705.4 861.7 h3.600 M705.4 862.1 h3.600" stroke="#111" stroke-width="0.800" fill="none"/><ellipse cx="707.1" cy="861.7" rx="2.300" ry="1" fill="#111"/><path d="M720.0 861.2 V862.0 M718.2 861.2 h3.600 M718.2 862.0 h3.600" stroke="#111" stroke-width="0.800" fill="none"/><ellipse cx="720.0" cy="861.4" rx="2.300" ry="1" fill="#111"/><rect x="728.9" y="835.1" width="9.1" height="27.1" fill="#c0181f" stroke="#5a1a1a" stroke-width="0.600"/><path d="M733.5 833.4 V836.8 M731.7 833.4 h3.600 M731.7 836.8 h3.600" stroke="#111" stroke-width="0.800" fill="none"/><ellipse cx="733.5" cy="834.9" rx="2.300" ry="1" fill="#111"/>
<text class="ss" x="675.6" y="881.0" font-size="11" text-anchor="middle" fill="#1a1a1a">14 d</text>
<text class="ss" x="723.1" y="881.0" font-size="11" text-anchor="middle" fill="#1a1a1a">28 d</text>
<path d="M656.4 845.3 H671.5 M663.2 845.3 V808 H684.9 V812.3 M712.3 861 H713.3 M712.8 861 V826 H733.5 V830.9" stroke="#333" stroke-width="0.800" fill="none"/>
<text class="ss" x="674.0" y="806.2" font-size="6.5" text-anchor="middle" font-weight="bold" fill="#222">***</text>
<text class="ss" x="723.5" y="824.2" font-size="6.5" text-anchor="middle" font-weight="bold" fill="#222">***</text>
<text class="ss" transform="translate(611.8 866) rotate(-90)" font-size="10.600" fill="#1a1a1a" textLength="70.3" lengthAdjust="spacingAndGlyphs" xml:space="preserve">Relative  MPO</text>
<text class="ss" transform="translate(626.7 856.6) rotate(-90)" font-size="10.600" fill="#1a1a1a" textLength="52.6" lengthAdjust="spacingAndGlyphs" xml:space="preserve">level  (fold)</text>
</g>
<g id="panelD">
<text class="ss" x="17.0" y="388.0" font-size="21" font-weight="bold">D</text>
<text class="ss" x="136.5" y="384.3" font-size="11.3" text-anchor="middle" fill="#1a1a1a">Cy5.5</text>
<path d="M73 394 H202.5" stroke="#000" stroke-width="1.400"/>
<text class="ss" x="78.0" y="408.2" font-size="11.3" textLength="21.7" lengthAdjust="spacingAndGlyphs" fill="#1a1a1a">14 d</text>
<text class="ss" x="166.6" y="408.2" font-size="11.3" textLength="21.1" lengthAdjust="spacingAndGlyphs" fill="#1a1a1a">28 d</text>
<text class="ss" x="324.0" y="390.0" font-size="11.3" text-anchor="middle" fill="#1a1a1a">Cy5.5-NP</text>
<path d="M259 394.8 H388" stroke="#000" stroke-width="1.400"/>
<text class="ss" x="264.6" y="408.2" font-size="11.3" textLength="11.4" lengthAdjust="spacingAndGlyphs" fill="#1a1a1a">14</text>
<text class="ss" x="351.7" y="408.2" font-size="11.3" textLength="21.5" lengthAdjust="spacingAndGlyphs" fill="#1a1a1a">28 d</text>
<text class="ss" x="516.6" y="390.0" font-size="11.3" text-anchor="middle" fill="#1a1a1a">Cy5.5-5 NP</text>
<path d="M450.6 395 H581" stroke="#000" stroke-width="1.400"/>
<text class="ss" x="461.3" y="408.2" font-size="11.3" textLength="11.7" lengthAdjust="spacingAndGlyphs" fill="#1a1a1a">14</text>
<text class="ss" x="556.4" y="408.2" font-size="11.3" textLength="21.6" lengthAdjust="spacingAndGlyphs" fill="#1a1a1a">28 d</text>
<rect x="38.5" y="412.5" width="181.5" height="12.9" fill="#000"/>
<text class="ss" x="55.8" y="423.6" font-size="10.8" textLength="22.4" lengthAdjust="spacingAndGlyphs" fill="#2258b0">DAP</text>
<text class="ss" x="96.0" y="423.6" font-size="10.8" font-weight="bold" textLength="28.0" lengthAdjust="spacingAndGlyphs" fill="#25a536">CD31</text>
<text class="ss" x="139.6" y="423.6" font-size="10.8" font-weight="bold" textLength="28.4" lengthAdjust="spacingAndGlyphs" fill="#f4f4f4">cy5.5</text>
<text class="ss" x="181.0" y="423.6" font-size="10.800" font-weight="bold" textLength="32.8" lengthAdjust="spacingAndGlyphs"><tspan fill="#f4f4f4">M</tspan><tspan fill="#2aa83a">e</tspan><tspan fill="#2a6ad0">r</tspan><tspan fill="#f4f4f4">g</tspan><tspan fill="#2aa83a">e</tspan></text>
<rect x="222.3" y="412.5" width="187.1" height="12.9" fill="#000"/>
<text class="ss" x="237.0" y="423.6" font-size="10.8" textLength="25.8" lengthAdjust="spacingAndGlyphs" fill="#2258b0">DAPI</text>
<text class="ss" x="280.6" y="423.6" font-size="10.8" font-weight="bold" textLength="27.6" lengthAdjust="spacingAndGlyphs" fill="#25a536">CD31</text>
<text class="ss" x="326.0" y="423.6" font-size="10.8" font-weight="bold" textLength="28.2" lengthAdjust="spacingAndGlyphs" fill="#f4f4f4">cy5.5</text>
<text class="ss" x="368.6" y="423.6" font-size="10.800" font-weight="bold" textLength="33.1" lengthAdjust="spacingAndGlyphs"><tspan fill="#f4f4f4">M</tspan><tspan fill="#2aa83a">e</tspan><tspan fill="#2a6ad0">r</tspan><tspan fill="#f4f4f4">g</tspan><tspan fill="#2aa83a">e</tspan></text>
<rect x="412.3" y="412.5" width="184.0" height="12.9" fill="#000"/>
<text class="ss" x="427.0" y="423.6" font-size="10.8" textLength="25.0" lengthAdjust="spacingAndGlyphs" fill="#2258b0">DAPI</text>
<text class="ss" x="471.0" y="423.6" font-size="10.8" font-weight="bold" textLength="27.8" lengthAdjust="spacingAndGlyphs" fill="#25a536">CD31</text>
<text class="ss" x="515.0" y="423.6" font-size="10.8" font-weight="bold" textLength="27.6" lengthAdjust="spacingAndGlyphs" fill="#f4f4f4">cy5.5</text>
<text class="ss" x="558.0" y="423.6" font-size="10.800" font-weight="bold" textLength="26.0" lengthAdjust="spacingAndGlyphs"><tspan fill="#f4f4f4">M</tspan><tspan fill="#2aa83a">e</tspan><tspan fill="#2a6ad0">r</tspan><tspan fill="#f4f4f4">g</tspan></text>
<svg x="38.8" y="427.0" width="20.7" height="24.0" viewBox="0 0 100 100" preserveAspectRatio="none"><rect width="100" height="100" fill="#04051a"/><rect x="0" y="0" width="100" height="100" filter="url(#n17)" opacity="0.7"/></svg>
<svg x="38.8" y="452.6" width="20.7" height="22.4" viewBox="0 0 100 100" preserveAspectRatio="none"><rect width="100" height="100" fill="#030504"/><path d="M28 58 L40 52" stroke="#2ec040" stroke-width="5" stroke-linecap="round"/></svg>
<svg x="38.8" y="476.4" width="20.7" height="23.1" viewBox="0 0 100 100" preserveAspectRatio="none"><rect width="100" height="100" fill="#080808"/><rect x="-40" y="-40" width="180" height="180" filter="url(#n18)" opacity="0.9" transform="rotate(-30 50 50)"/></svg>
<svg x="62.2" y="427.0" width="65.1" height="72.3" viewBox="0 0 100 100" preserveAspectRatio="none"><rect width="100" height="100" fill="#070a0e"/><rect x="-30" y="-30" width="160" height="160" filter="url(#n0)" opacity="0.6" transform="rotate(-35 50 50)"/><rect x="-30" y="-30" width="160" height="160" filter="url(#n1)" opacity="0.5"/><path d="M-5 62 L60 8 L70 14 L2 74 Z" fill="#04060a" opacity="0.75"/><rect x="-30" y="-30" width="160" height="160" filter="url(#n2)" opacity="0.8"/><ellipse cx="45" cy="48" rx="40" ry="9" transform="rotate(-32 45 48)" fill="#1838c8" opacity="0.2"/><ellipse cx="33" cy="48" rx="6" ry="2.200" transform="rotate(-28 33 48)" fill="none" stroke="#35e05a" stroke-width="2.200"/><path d="M58 48 C62 43 68 40 73 40" stroke="#2bc04a" stroke-width="1.800" fill="none" opacity="0.8"/></svg>
<svg x="130.3" y="427.0" width="21.0" height="24.0" viewBox="0 0 100 100" preserveAspectRatio="none"><rect width="100" height="100" fill="#06071e"/><rect x="0" y="0" width="100" height="100" filter="url(#n19)" opacity="0.7"/></svg>
<svg x="130.3" y="452.6" width="21.0" height="22.4" viewBox="0 0 100 100" preserveAspectRatio="none"><rect width="100" height="100" fill="#020403"/><path d="M35 40 C42 30 60 34 70 44 C62 56 46 62 38 54 Z" fill="none" stroke="#35d048" stroke-width="4"/></svg>
<svg x="130.3" y="476.4" width="21.0" height="23.1" viewBox="0 0 100 100" preserveAspectRatio="none"><rect width="100" height="100" fill="#040404"/><rect x="-40" y="-40" width="180" height="180" filter="url(#n20)" opacity="0.9"/></svg>
<svg x="153.3" y="427.0" width="66.0" height="72.3" viewBox="0 0 100 100" preserveAspectRatio="none"><rect width="100" height="100" fill="#03040a"/><defs><radialGradient id="d2g" cx="53%" cy="50%" r="48%"><stop offset="0" stop-color="#1a34d0" stop-opacity="0"/><stop offset="0.45" stop-color="#1a34d0" stop-opacity="0.3"/><stop offset="1" stop-color="#1a34d0" stop-opacity="0"/></radialGradient></defs><rect width="100" height="100" fill="url(#d2g)"/><rect x="-30" y="-30" width="160" height="160" filter="url(#n3)" opacity="0.8"/><rect x="-30" y="-30" width="160" height="160" filter="url(#n4)" opacity="0.75"/><path d="M0 80 C14 82 26 90 46 94" stroke="#1a34d0" stroke-width="3" fill="none" opacity="0.6"/><path d="M30 42 C33 29 47 27 57 32 C65 36 73 39 77 43 C73 52 67 59 59 65 C51 71 39 70 34 62 C30 56 29 48 30 42 Z" fill="#020306" stroke="#3eea58" stroke-width="2.100"/></svg>
<svg x="223.2" y="427.0" width="21.2" height="24.0" viewBox="0 0 100 100" preserveAspectRatio="none"><rect width="100" height="100" fill="#040516"/><rect x="0" y="0" width="100" height="100" filter="url(#n21)" opacity="0.7"/></svg>
<svg x="223.2" y="452.6" width="21.2" height="22.4" viewBox="0 0 100 100" preserveAspectRatio="none"><rect width="100" height="100" fill="#040a06"/><path d="M52 45 V72" stroke="#2aa040" stroke-width="5" stroke-linecap="round" opacity="0.8"/></svg>
<svg x="223.2" y="476.4" width="21.2" height="23.1" viewBox="0 0 100 100" preserveAspectRatio="none"><rect width="100" height="100" fill="#0e0e0e"/><rect x="-40" y="-40" width="180" height="180" filter="url(#n22)" opacity="0.9"/></svg>
<svg x="246.8" y="427.0" width="68.4" height="72.3" viewBox="0 0 100 100" preserveAspectRatio="none"><rect width="100" height="100" fill="#030405"/><g fill="#4a5147"><rect x="3" y="3" width="21" height="15" rx="6"/><rect x="25" y="4" width="21" height="16" rx="6"/><rect x="2" y="27" width="20" height="25" rx="7"/><rect x="21" y="28" width="25" height="23" rx="7"/><rect x="3" y="57" width="22" height="26" rx="7"/><rect x="23" y="58" width="23" height="24" rx="7"/><rect x="2" y="89" width="15" height="13" rx="5"/><rect x="19" y="80" width="27" height="22" rx="7"/><rect x="57" y="2" width="20" height="19" rx="6"/><rect x="76" y="3" width="23" height="20" rx="6"/><rect x="58" y="37" width="22" height="23" rx="7"/><rect x="78" y="35" width="21" height="24" rx="7"/><rect x="55" y="70" width="22" height="32" rx="7"/><rect x="75" y="67" width="24" height="35" rx="7"/><rect x="54" y="59" width="7" height="8" rx="3"/></g><rect x="-30" y="-30" width="160" height="160" filter="url(#n5)" opacity="0.55"/><path d="M46 0 C46 30 47 60 48 100 L56 100 C55 60 56 30 56 0 Z" fill="#030405"/><rect x="-30" y="-30" width="160" height="160" filter="url(#n6)" opacity="0.7"/><ellipse cx="51" cy="50" rx="2.400" ry="13" fill="#0e3a30"/><ellipse cx="51" cy="40" rx="2.200" ry="3.500" fill="#2a9ae8"/><ellipse cx="51" cy="57" rx="1.800" ry="3" fill="#2fe07a"/><path d="M49.500 44 V56 M52.500 44 V56" stroke="#2ab050" stroke-width="0.800"/></svg>
<svg x="318.3" y="427.0" width="20.5" height="24.0" viewBox="0 0 100 100" preserveAspectRatio="none"><rect width="100" height="100" fill="#05061c"/><rect x="0" y="0" width="100" height="100" filter="url(#n23)" opacity="0.7"/></svg>
<svg x="318.3" y="452.6" width="20.5" height="22.4" viewBox="0 0 100 100" preserveAspectRatio="none"><rect width="100" height="100" fill="#050d08"/><path d="M55 30 L50 48 M42 62 L36 84" stroke="#38d050" stroke-width="6" stroke-linecap="round"/></svg>
<svg x="318.3" y="476.4" width="20.5" height="23.1" viewBox="0 0 100 100" preserveAspectRatio="none"><rect width="100" height="100" fill="#030303"/></svg>
<svg x="341.3" y="427.0" width="68.1" height="72.3" viewBox="0 0 100 100" preserveAspectRatio="none"><rect width="100" height="100" fill="#050d14"/><rect x="-30" y="-30" width="160" height="160" filter="url(#n7)" opacity="0.32"/><rect x="-30" y="-30" width="160" height="160" filter="url(#n8)" opacity="0.6"/><path d="M0 0 H42 C38 30 30 60 22 100 H0 Z" fill="#040a14" opacity="0.5"/><g transform="rotate(14 60 25)"><ellipse cx="60" cy="25" rx="4" ry="13" fill="#1c50d8" opacity="0.9"/><ellipse cx="60" cy="24" rx="2.400" ry="10" fill="#3ce070"/></g><g transform="rotate(16 46 68)"><ellipse cx="46" cy="68" rx="4.500" ry="16" fill="#1c50d8" opacity="0.9"/><ellipse cx="46.500" cy="66" rx="2.800" ry="12" fill="#3ce070"/></g><ellipse cx="88" cy="45" rx="3" ry="2.500" fill="#30c850"/></svg>
<svg x="413.2" y="427.0" width="20.5" height="24.0" viewBox="0 0 100 100" preserveAspectRatio="none"><rect width="100" height="100" fill="#070938"/><rect x="0" y="0" width="100" height="100" filter="url(#n24)" opacity="0.7"/></svg>
<svg x="413.2" y="452.6" width="20.5" height="22.4" viewBox="0 0 100 100" preserveAspectRatio="none"><rect width="100" height="100" fill="#08180b"/><rect x="0" y="0" width="100" height="100" filter="url(#n25)" opacity="0.7"/></svg>
<svg x="413.2" y="476.4" width="20.5" height="23.1" viewBox="0 0 100 100" preserveAspectRatio="none"><rect width="100" height="100" fill="#f4f4f4"/><rect x="-40" y="-40" width="180" height="180" filter="url(#n26)" opacity="0.9" transform="rotate(-12 50 50)"/></svg>
<svg x="436.2" y="427.0" width="68.1" height="72.3" viewBox="0 0 100 100" preserveAspectRatio="none"><rect width="100" height="100" fill="#f2f4f8"/><rect x="-30" y="-30" width="160" height="160" filter="url(#n9)" opacity="0.55" transform="rotate(-12 50 50)"/><rect x="-30" y="-30" width="160" height="160" filter="url(#n10)" transform="rotate(-12 50 50)"/><rect x="-30" y="-30" width="160" height="160" filter="url(#n11)" opacity="0.9" transform="rotate(-12 50 50)"/><path d="M-2 80 C30 81 70 70 102 60 L102 67 C70 80 30 93 -2 92 Z" fill="#050608"/><path d="M0 50 C20 41 50 35 100 30 L100 38 C60 42 30 50 0 61 Z" fill="#141a36" opacity="0.9"/><ellipse cx="20" cy="47" rx="5" ry="2.400" transform="rotate(-14 20 47)" fill="#1a8a50" stroke="#2ed0c0" stroke-width="1.800"/><ellipse cx="60" cy="40" rx="3.600" ry="2.400" fill="#1a8a50" stroke="#2ed0c0" stroke-width="1.800"/><ellipse cx="86" cy="35" rx="4" ry="2" fill="#2ab8c8"/><path d="M30 14 L42 9 L52 16 L44 24 L32 22 Z" fill="none" stroke="#101418" stroke-width="2"/><rect x="-30" y="-30" width="160" height="160" filter="url(#n12)" opacity="0.85"/></svg>
<svg x="507.4" y="427.0" width="20.6" height="24.0" viewBox="0 0 100 100" preserveAspectRatio="none"><rect width="100" height="100" fill="#070938"/><rect x="0" y="0" width="100" height="100" filter="url(#n27)" opacity="0.7"/></svg>
<svg x="507.4" y="452.6" width="20.6" height="22.4" viewBox="0 0 100 100" preserveAspectRatio="none"><rect width="100" height="100" fill="#091c0c"/><rect x="0" y="0" width="100" height="100" filter="url(#n28)" opacity="0.7"/></svg>
<svg x="507.4" y="476.4" width="20.6" height="23.1" viewBox="0 0 100 100" preserveAspectRatio="none"><rect width="100" height="100" fill="#f0f0f0"/><rect x="-40" y="-40" width="180" height="180" filter="url(#n29)" opacity="0.9" transform="rotate(14 50 50)"/></svg>
<svg x="531.0" y="427.0" width="65.3" height="72.3" viewBox="0 0 100 100" preserveAspectRatio="none"><rect width="100" height="100" fill="#e4e8ee"/><rect x="-30" y="-30" width="160" height="160" filter="url(#n13)" opacity="0.55" transform="rotate(14 50 50)"/><rect x="-30" y="-30" width="160" height="160" filter="url(#n14)" transform="rotate(14 50 50)"/><rect x="-30" y="-30" width="160" height="160" filter="url(#n15)" opacity="0.9" transform="rotate(14 50 50)"/><path d="M-2 72 C30 76 70 86 102 82 L102 97 C70 99 30 90 -2 84 Z" fill="#050608"/><path d="M0 30 C20 28 60 33 100 44 L100 57 C60 48 30 46 0 47 Z" fill="#10162e" opacity="0.92"/><path d="M0 0 H100 V6 C70 10 30 8 0 14 Z" fill="#30343c" opacity="0.8"/><ellipse cx="27" cy="40" rx="3.800" ry="3.400" fill="#0a1418" stroke="#2ed0b0" stroke-width="2"/><ellipse cx="88" cy="45" rx="3.200" ry="3.400" fill="#0a1418" stroke="#2ed0b0" stroke-width="2"/><rect x="-30" y="-30" width="160" height="160" filter="url(#n16)" opacity="0.85"/></svg>
<rect x="570.2" y="493.800" width="23.100" height="3.200" fill="#fff"/>
</g>
<g id="panelF">
<text class="ss" x="17.3" y="518.3" font-size="21" font-weight="bold">F</text>
<text class="ss" x="143.0" y="512.5" font-size="11.3" text-anchor="middle" fill="#1a1a1a">Cy5.5</text>
<path d="M73.6 516.6 H206" stroke="#000" stroke-width="1.400"/>
<text class="ss" x="89.0" y="528.8" font-size="11.3" textLength="20.8" lengthAdjust="spacingAndGlyphs" fill="#1a1a1a">14 d</text>
<text class="ss" x="164.7" y="528.8" font-size="11.3" textLength="21.5" lengthAdjust="spacingAndGlyphs" fill="#1a1a1a">28 d</text>
<text class="ss" x="321.0" y="512.5" font-size="11.3" text-anchor="middle" fill="#1a1a1a">Cy5.5-NP</text>
<path d="M260.6 516.6 H392" stroke="#000" stroke-width="1.400"/>
<text class="ss" x="266.7" y="528.8" font-size="11.3" textLength="20.9" lengthAdjust="spacingAndGlyphs" fill="#1a1a1a">14 d</text>
<text class="ss" x="357.2" y="528.8" font-size="11.3" textLength="21.5" lengthAdjust="spacingAndGlyphs" fill="#1a1a1a">28 d</text>
<text class="ss" x="514.0" y="513.6" font-size="11.3" text-anchor="middle" fill="#1a1a1a">Cy5.5-5 NP</text>
<path d="M450.6 517.2 H582.5" stroke="#000" stroke-width="1.400"/>
<text class="ss" x="462.9" y="528.3" font-size="11.3" textLength="20.5" lengthAdjust="spacingAndGlyphs" fill="#1a1a1a">14 d</text>
<text class="ss" x="554.9" y="528.3" font-size="11.3" textLength="21.5" lengthAdjust="spacingAndGlyphs" fill="#1a1a1a">28 d</text>
<rect x="37.4" y="531.8" width="181.9" height="13.8" fill="#000"/>
<text class="ss" x="56.0" y="543.5" font-size="10.8" textLength="25.3" lengthAdjust="spacingAndGlyphs" fill="#2258b0">DAPI</text>
<text class="ss" x="95.7" y="543.5" font-size="10.8" font-weight="bold" textLength="34.7" lengthAdjust="spacingAndGlyphs" fill="#25a536">α-SMA</text>
<text class="ss" x="139.6" y="543.5" font-size="10.8" font-weight="bold" textLength="28.4" lengthAdjust="spacingAndGlyphs" fill="#f4f4f4">cy5.5</text>
<text class="ss" x="181.0" y="543.5" font-size="10.800" font-weight="bold" textLength="32.8" lengthAdjust="spacingAndGlyphs"><tspan fill="#f4f4f4">M</tspan><tspan fill="#2aa83a">e</tspan><tspan fill="#2a6ad0">r</tspan><tspan fill="#f4f4f4">g</tspan><tspan fill="#2aa83a">e</tspan></text>
<rect x="223.2" y="531.2" width="187.8" height="14.1" fill="#000"/>
<text class="ss" x="240.0" y="543.5" font-size="10.8" textLength="25.2" lengthAdjust="spacingAndGlyphs" fill="#2258b0">DAPI</text>
<text class="ss" x="280.5" y="543.5" font-size="10.8" font-weight="bold" textLength="34.7" lengthAdjust="spacingAndGlyphs" fill="#25a536">α-SMA</text>
<text class="ss" x="329.6" y="543.5" font-size="10.8" font-weight="bold" textLength="28.6" lengthAdjust="spacingAndGlyphs" fill="#f4f4f4">cy5.5</text>
<text class="ss" x="370.4" y="543.5" font-size="10.800" font-weight="bold" textLength="32.2" lengthAdjust="spacingAndGlyphs"><tspan fill="#f4f4f4">M</tspan><tspan fill="#2aa83a">e</tspan><tspan fill="#2a6ad0">r</tspan><tspan fill="#f4f4f4">g</tspan><tspan fill="#2aa83a">e</tspan></text>
<rect x="413.8" y="531.8" width="182.5" height="13.8" fill="#000"/>
<text class="ss" x="427.0" y="543.5" font-size="10.8" textLength="25.0" lengthAdjust="spacingAndGlyphs" fill="#2258b0">DAPI</text>
<text class="ss" x="468.0" y="543.5" font-size="10.8" font-weight="bold" textLength="34.0" lengthAdjust="spacingAndGlyphs" fill="#25a536">α-SMA</text>
<text class="ss" x="512.9" y="543.5" font-size="10.8" font-weight="bold" textLength="28.1" lengthAdjust="spacingAndGlyphs" fill="#f4f4f4">cy5.5</text>
<text class="ss" x="557.4" y="543.5" font-size="10.800" font-weight="bold" textLength="32.2" lengthAdjust="spacingAndGlyphs"><tspan fill="#f4f4f4">M</tspan><tspan fill="#2aa83a">e</tspan><tspan fill="#2a6ad0">r</tspan><tspan fill="#f4f4f4">g</tspan><tspan fill="#2aa83a">e</tspan></text>
<svg x="39.0" y="548.7" width="20.8" height="22.8" viewBox="0 0 100 100" preserveAspectRatio="none"><rect width="100" height="100" fill="#0a0a48"/><rect x="0" y="0" width="100" height="100" filter="url(#n45)" opacity="0.5"/></svg>
<svg x="39.0" y="573.2" width="20.8" height="23.0" viewBox="0 0 100 100" preserveAspectRatio="none"><rect width="100" height="100" fill="#0a2a0a"/><rect x="0" y="0" width="100" height="100" filter="url(#n46)" opacity="0.4"/></svg>
<svg x="39.0" y="597.9" width="20.8" height="22.9" viewBox="0 0 100 100" preserveAspectRatio="none"><rect width="100" height="100" fill="#050505"/></svg>
<svg x="62.3" y="548.7" width="65.0" height="72.1" viewBox="0 0 100 100" preserveAspectRatio="none"><rect width="100" height="100" fill="#0b2b2a"/><rect x="-30" y="-30" width="160" height="160" filter="url(#n30)" opacity="0.22"/><rect x="-30" y="-30" width="160" height="160" filter="url(#n31)" opacity="0.9"/></svg>
<svg x="131.9" y="548.7" width="19.9" height="22.8" viewBox="0 0 100 100" preserveAspectRatio="none"><rect width="100" height="100" fill="#0a0a48"/><rect x="0" y="0" width="100" height="100" filter="url(#n47)" opacity="0.5"/></svg>
<svg x="131.9" y="573.2" width="19.9" height="23.0" viewBox="0 0 100 100" preserveAspectRatio="none"><rect width="100" height="100" fill="#0a2a0a"/><rect x="0" y="0" width="100" height="100" filter="url(#n48)" opacity="0.4"/></svg>
<svg x="131.9" y="597.9" width="19.9" height="22.9" viewBox="0 0 100 100" preserveAspectRatio="none"><rect width="100" height="100" fill="#050505"/></svg>
<svg x="153.4" y="548.7" width="65.3" height="72.1" viewBox="0 0 100 100" preserveAspectRatio="none"><rect width="100" height="100" fill="#0b2b2c"/><rect x="-30" y="-30" width="160" height="160" filter="url(#n32)" opacity="0.22"/><rect x="-30" y="-30" width="160" height="160" filter="url(#n33)" opacity="0.9"/><ellipse cx="22" cy="45" rx="2" ry="6" fill="#2048e0" opacity="0.8"/></svg>
<svg x="223.8" y="548.7" width="21.5" height="22.8" viewBox="0 0 100 100" preserveAspectRatio="none"><rect width="100" height="100" fill="#0a0a48"/><rect x="0" y="0" width="100" height="100" filter="url(#n49)" opacity="0.5"/></svg>
<svg x="223.8" y="573.2" width="21.5" height="23.0" viewBox="0 0 100 100" preserveAspectRatio="none"><rect width="100" height="100" fill="#0a2a0a"/><rect x="0" y="0" width="100" height="100" filter="url(#n50)" opacity="0.4"/></svg>
<svg x="223.8" y="597.9" width="21.5" height="22.9" viewBox="0 0 100 100" preserveAspectRatio="none"><rect width="100" height="100" fill="#0c0c0c"/><rect x="-40" y="-40" width="180" height="180" filter="url(#n51)" opacity="0.9"/></svg>
<svg x="247.4" y="548.7" width="70.6" height="72.1" viewBox="0 0 100 100" preserveAspectRatio="none"><rect width="100" height="100" fill="#0c3a3a"/><rect x="-30" y="-30" width="160" height="160" filter="url(#n34)" opacity="0.6" transform="rotate(4 50 50)"/><rect x="-30" y="-30" width="160" height="160" filter="url(#n35)" opacity="0.75" transform="rotate(4 50 50)"/><rect x="-30" y="-30" width="160" height="160" filter="url(#n36)" opacity="0.9"/></svg>
<svg x="321.0" y="548.7" width="20.9" height="22.8" viewBox="0 0 100 100" preserveAspectRatio="none"><rect width="100" height="100" fill="#0a0a48"/><rect x="0" y="0" width="100" height="100" filter="url(#n52)" opacity="0.5"/></svg>
<svg x="321.0" y="573.2" width="20.9" height="23.0" viewBox="0 0 100 100" preserveAspectRatio="none"><rect width="100" height="100" fill="#0a2a0a"/><rect x="0" y="0" width="100" height="100" filter="url(#n53)" opacity="0.4"/></svg>
<svg x="321.0" y="597.9" width="20.9" height="22.9" viewBox="0 0 100 100" preserveAspectRatio="none"><rect width="100" height="100" fill="#050505"/></svg>
<svg x="344.0" y="548.7" width="67.0" height="72.1" viewBox="0 0 100 100" preserveAspectRatio="none"><rect width="100" height="100" fill="#0a2a36"/><rect x="-30" y="-30" width="160" height="160" filter="url(#n37)" opacity="0.25"/><rect x="-30" y="-30" width="160" height="160" filter="url(#n38)" opacity="0.9"/><path d="M10 100 C30 80 40 60 70 50" stroke="#04141c" stroke-width="5" fill="none" opacity="0.45"/></svg>
<svg x="414.7" y="548.7" width="21.5" height="22.8" viewBox="0 0 100 100" preserveAspectRatio="none"><rect width="100" height="100" fill="#0a0a4e"/></svg>
<svg x="414.7" y="573.2" width="21.5" height="23.0" viewBox="0 0 100 100" preserveAspectRatio="none"><rect width="100" height="100" fill="#0d4a14"/><path d="M56 0 L60 100" stroke="#04200a" stroke-width="5"/></svg>
<svg x="414.7" y="597.9" width="21.5" height="22.9" viewBox="0 0 100 100" preserveAspectRatio="none"><rect width="100" height="100" fill="#d0d0d0"/><rect x="0" y="0" width="100" height="100" filter="url(#n54)" opacity="0.9"/><path d="M58 0 L60 0 L64 100 L52 100 Z" fill="#0a0a0a"/></svg>
<svg x="438.3" y="548.7" width="67.5" height="72.1" viewBox="0 0 100 100" preserveAspectRatio="none"><rect width="100" height="100" fill="#b6e8e4"/><rect x="-30" y="-30" width="160" height="160" filter="url(#n39)" opacity="0.75" transform="rotate(22 50 50)"/><rect x="-30" y="-30" width="160" height="160" filter="url(#n40)" opacity="0.7" transform="rotate(22 50 50)"/><rect x="-30" y="-30" width="160" height="160" filter="url(#n41)" opacity="0.9" transform="rotate(22 50 50)"/><path d="M64 0 L70 0 C69 30 70 60 72 100 L56 100 C60 70 63 30 64 0 Z" fill="#08221e"/><circle cx="48" cy="60" r="3.500" fill="#0a2422"/><circle cx="77" cy="30" r="2.500" fill="#0a2422"/></svg>
<svg x="508.9" y="548.7" width="19.3" height="22.8" viewBox="0 0 100 100" preserveAspectRatio="none"><rect width="100" height="100" fill="#0a0a4e"/></svg>
<svg x="508.9" y="573.2" width="19.3" height="23.0" viewBox="0 0 100 100" preserveAspectRatio="none"><rect width="100" height="100" fill="#0d4414"/><path d="M40 0 L44 100" stroke="#06280c" stroke-width="4"/></svg>
<svg x="508.9" y="597.9" width="19.3" height="22.9" viewBox="0 0 100 100" preserveAspectRatio="none"><rect width="100" height="100" fill="#686868"/><rect x="0" y="0" width="100" height="100" filter="url(#n55)" opacity="0.7"/><path d="M38 0 L42 100" stroke="#1a1a1a" stroke-width="5"/></svg>
<svg x="530.4" y="548.7" width="65.9" height="72.1" viewBox="0 0 100 100" preserveAspectRatio="none"><rect width="100" height="100" fill="#36908e"/><rect x="-30" y="-30" width="160" height="160" filter="url(#n42)" opacity="0.9" transform="rotate(12 50 50)"/><rect x="-30" y="-30" width="160" height="160" filter="url(#n43)" opacity="0.8" transform="rotate(12 50 50)"/><rect x="-30" y="-30" width="160" height="160" filter="url(#n44)" opacity="0.9" transform="rotate(12 50 50)"/><path d="M22 100 C28 70 30 50 40 30 C34 55 36 75 34 100 Z" fill="#062024" opacity="0.85"/><path d="M0 0 H26 C18 12 10 20 0 30 Z" fill="#0a2c34" opacity="0.8"/></svg>
<rect x="566.600" y="615.2" width="22.100" height="3.100" fill="#fff"/>
</g>
<g id="panelH">
<text class="ss" x="17.3" y="651.0" font-size="21" font-weight="bold">H</text>
<text class="ss" x="136.0" y="639.2" font-size="11.3" text-anchor="middle" fill="#1a1a1a">Cy5.5</text>
<path d="M72.7 649 H201.8" stroke="#000" stroke-width="1.400"/>
<text class="ss" x="77.6" y="662.8" font-size="11.3" textLength="21.2" lengthAdjust="spacingAndGlyphs" fill="#1a1a1a">14 d</text>
<text class="ss" x="165.6" y="662.8" font-size="11.3" textLength="22.1" lengthAdjust="spacingAndGlyphs" fill="#1a1a1a">28 d</text>
<text class="ss" x="322.0" y="644.0" font-size="11.3" text-anchor="middle" fill="#1a1a1a">Cy5.5-NP</text>
<path d="M257.5 649.8 H387.3" stroke="#000" stroke-width="1.400"/>
<text class="ss" x="264.6" y="662.5" font-size="11.3" textLength="10.7" lengthAdjust="spacingAndGlyphs" fill="#1a1a1a">14</text>
<text class="ss" x="350.5" y="662.5" font-size="11.3" textLength="21.5" lengthAdjust="spacingAndGlyphs" fill="#1a1a1a">28 d</text>
<text class="ss" x="516.0" y="644.0" font-size="11.3" text-anchor="middle" fill="#1a1a1a">Cy5.5-5 NP</text>
<path d="M450.6 649.8 H581" stroke="#000" stroke-width="1.400"/>
<text class="ss" x="461.3" y="662.5" font-size="11.3" textLength="11.7" lengthAdjust="spacingAndGlyphs" fill="#1a1a1a">14</text>
<text class="ss" x="555.8" y="662.5" font-size="11.3" textLength="21.5" lengthAdjust="spacingAndGlyphs" fill="#1a1a1a">28 d</text>
<rect x="37.4" y="667" width="181.0" height="13.4" fill="#000"/>
<text class="ss" x="55.2" y="678.4" font-size="10.8" textLength="25.2" lengthAdjust="spacingAndGlyphs" fill="#2258b0">DAPI</text>
<text class="ss" x="95.0" y="678.4" font-size="10.8" font-weight="bold" textLength="35.4" lengthAdjust="spacingAndGlyphs" fill="#25a536">CD11b</text>
<text class="ss" x="139.0" y="678.4" font-size="10.8" font-weight="bold" textLength="28.2" lengthAdjust="spacingAndGlyphs" fill="#f4f4f4">cy5.5</text>
<text class="ss" x="180.0" y="678.4" font-size="10.800" font-weight="bold" textLength="32.6" lengthAdjust="spacingAndGlyphs"><tspan fill="#f4f4f4">M</tspan><tspan fill="#2aa83a">e</tspan><tspan fill="#2a6ad0">r</tspan><tspan fill="#f4f4f4">g</tspan><tspan fill="#2aa83a">e</tspan></text>
<rect x="221.7" y="667.2" width="185.5" height="12.8" fill="#000"/>
<text class="ss" x="237.0" y="678.4" font-size="10.8" textLength="25.0" lengthAdjust="spacingAndGlyphs" fill="#2258b0">DAPI</text>
<text class="ss" x="280.0" y="678.4" font-size="10.8" font-weight="bold" textLength="34.3" lengthAdjust="spacingAndGlyphs" fill="#25a536">CD11b</text>
<text class="ss" x="325.0" y="678.4" font-size="10.8" font-weight="bold" textLength="28.6" lengthAdjust="spacingAndGlyphs" fill="#f4f4f4">cy5.5</text>
<text class="ss" x="368.0" y="678.4" font-size="10.800" font-weight="bold" textLength="32.0" lengthAdjust="spacingAndGlyphs"><tspan fill="#f4f4f4">M</tspan><tspan fill="#2aa83a">e</tspan><tspan fill="#2a6ad0">r</tspan><tspan fill="#f4f4f4">g</tspan><tspan fill="#2aa83a">e</tspan></text>
<rect x="412.3" y="666.6" width="184.0" height="13.4" fill="#000"/>
<text class="ss" x="427.0" y="678.4" font-size="10.8" textLength="25.0" lengthAdjust="spacingAndGlyphs" fill="#2258b0">DAPI</text>
<text class="ss" x="470.0" y="678.4" font-size="10.8" font-weight="bold" textLength="34.3" lengthAdjust="spacingAndGlyphs" fill="#25a536">CD11b</text>
<text class="ss" x="512.9" y="678.4" font-size="10.8" font-weight="bold" textLength="28.1" lengthAdjust="spacingAndGlyphs" fill="#f4f4f4">cy5.5</text>
<text class="ss" x="556.4" y="678.4" font-size="10.800" font-weight="bold" textLength="32.3" lengthAdjust="spacingAndGlyphs"><tspan fill="#f4f4f4">M</tspan><tspan fill="#2aa83a">e</tspan><tspan fill="#2a6ad0">r</tspan><tspan fill="#f4f4f4">g</tspan><tspan fill="#2aa83a">e</tspan></text>
<svg x="38.3" y="683.8" width="20.6" height="21.5" viewBox="0 0 100 100" preserveAspectRatio="none"><rect width="100" height="100" fill="#04040e"/></svg>
<svg x="38.3" y="706.8" width="20.6" height="20.6" viewBox="0 0 100 100" preserveAspectRatio="none"><rect width="100" height="100" fill="#050b05"/><rect x="0" y="0" width="100" height="100" filter="url(#n72)" opacity="0.5"/></svg>
<svg x="38.3" y="728.9" width="20.6" height="20.9" viewBox="0 0 100 100" preserveAspectRatio="none"><rect width="100" height="100" fill="#050505"/></svg>
<svg x="61.3" y="683.5" width="65.4" height="66.0" viewBox="0 0 100 100" preserveAspectRatio="none"><rect width="100" height="100" fill="#03060c"/><rect x="-30" y="-30" width="160" height="160" filter="url(#n56)" opacity="0.55"/><rect x="-30" y="-30" width="160" height="160" filter="url(#n57)" opacity="0.68"/><ellipse cx="60" cy="55" rx="1.500" ry="4" fill="#30b0a0" transform="rotate(-20 60 55)"/></svg>
<svg x="130.4" y="683.8" width="20.8" height="21.5" viewBox="0 0 100 100" preserveAspectRatio="none"><rect width="100" height="100" fill="#04040e"/></svg>
<svg x="130.4" y="706.8" width="20.8" height="20.6" viewBox="0 0 100 100" preserveAspectRatio="none"><rect width="100" height="100" fill="#050b05"/><rect x="0" y="0" width="100" height="100" filter="url(#n73)" opacity="0.5"/></svg>
<svg x="130.4" y="728.9" width="20.8" height="20.9" viewBox="0 0 100 100" preserveAspectRatio="none"><rect width="100" height="100" fill="#050505"/></svg>
<svg x="152.8" y="683.5" width="65.0" height="66.0" viewBox="0 0 100 100" preserveAspectRatio="none"><rect width="100" height="100" fill="#03070e"/><rect x="-30" y="-30" width="160" height="160" filter="url(#n58)" opacity="0.55"/><rect x="-30" y="-30" width="160" height="160" filter="url(#n59)" opacity="0.68"/><ellipse cx="45" cy="14" rx="1.600" ry="3.800" transform="rotate(-30 45 14)" fill="#3ad850"/><ellipse cx="76" cy="28" rx="1.600" ry="3.800" transform="rotate(40 76 28)" fill="#3ad850"/><ellipse cx="60" cy="40" rx="1.600" ry="3.800" transform="rotate(-35 60 40)" fill="#3ad850"/><ellipse cx="30" cy="55" rx="1.600" ry="3.800" transform="rotate(10 30 55)" fill="#3ad850"/><ellipse cx="82" cy="62" rx="1.600" ry="3.800" transform="rotate(20 82 62)" fill="#3ad850"/><ellipse cx="20" cy="88" rx="1.600" ry="3.800" transform="rotate(-20 20 88)" fill="#3ad850"/></svg>
<svg x="222.3" y="683.8" width="20.8" height="21.5" viewBox="0 0 100 100" preserveAspectRatio="none"><rect width="100" height="100" fill="#04040e"/></svg>
<svg x="222.3" y="706.8" width="20.8" height="20.6" viewBox="0 0 100 100" preserveAspectRatio="none"><rect width="100" height="100" fill="#050b05"/><rect x="0" y="0" width="100" height="100" filter="url(#n74)" opacity="0.5"/></svg>
<svg x="222.3" y="728.9" width="20.8" height="20.9" viewBox="0 0 100 100" preserveAspectRatio="none"><rect width="100" height="100" fill="#2a2a2a"/><rect x="0" y="0" width="100" height="100" filter="url(#n75)" opacity="0.8"/><path d="M0 20 C40 40 60 70 70 100 M30 0 C50 30 80 50 100 60" stroke="#0a0a0a" stroke-width="5" fill="none"/></svg>
<svg x="245.9" y="683.5" width="65.3" height="66.0" viewBox="0 0 100 100" preserveAspectRatio="none"><rect width="100" height="100" fill="#1c221e"/><rect x="-30" y="-30" width="160" height="160" filter="url(#n60)" opacity="0.7"/><rect x="-30" y="-30" width="160" height="160" filter="url(#n61)" opacity="0.75"/><rect x="-30" y="-30" width="160" height="160" filter="url(#n62)" opacity="0.6"/><g fill="none" stroke="#070807" stroke-linecap="round"><path d="M-5 10 C25 30 45 55 62 105" stroke-width="6.500"/><path d="M20 -5 C38 22 60 48 105 70" stroke-width="5.500"/><path d="M55 -5 C58 10 64 24 80 36" stroke-width="3.500"/><path d="M-5 52 C15 62 28 80 34 105" stroke-width="4"/><path d="M70 -5 C80 8 92 14 105 16" stroke-width="3"/><path d="M42 40 C55 60 75 80 105 96" stroke-width="2.500"/></g><path d="M6 26 C30 40 54 60 80 86" stroke="#34d04c" stroke-width="3" fill="none" opacity="0.8"/><path d="M8 40 C20 46 30 54 40 62" stroke="#34d04c" stroke-width="2" fill="none" opacity="0.6"/><path d="M0 0 L14 0 C10 8 4 12 0 14 Z" fill="#050505"/></svg>
<svg x="316.4" y="683.8" width="20.9" height="21.5" viewBox="0 0 100 100" preserveAspectRatio="none"><rect width="100" height="100" fill="#04040e"/></svg>
<svg x="316.4" y="706.8" width="20.9" height="20.6" viewBox="0 0 100 100" preserveAspectRatio="none"><rect width="100" height="100" fill="#050b05"/><rect x="0" y="0" width="100" height="100" filter="url(#n76)" opacity="0.5"/></svg>
<svg x="316.4" y="728.9" width="20.9" height="20.9" viewBox="0 0 100 100" preserveAspectRatio="none"><rect width="100" height="100" fill="#0a0a0a"/><rect x="0" y="0" width="100" height="100" filter="url(#n77)" opacity="0.7"/></svg>
<svg x="339.4" y="683.5" width="65.4" height="66.0" viewBox="0 0 100 100" preserveAspectRatio="none"><rect width="100" height="100" fill="#161a18"/><rect x="-30" y="-30" width="160" height="160" filter="url(#n63)" opacity="0.7"/><rect x="-30" y="-30" width="160" height="160" filter="url(#n64)" opacity="0.75"/><rect x="-30" y="-30" width="160" height="160" filter="url(#n65)" opacity="0.6"/><g fill="none" stroke="#080908" stroke-linecap="round" opacity="0.7"><path d="M22 -5 C20 30 24 60 18 105" stroke-width="5"/><path d="M62 -5 C58 30 60 70 70 105" stroke-width="4"/><path d="M100 0 C92 30 94 60 88 105" stroke-width="6"/></g><ellipse cx="12" cy="82" rx="1.800" ry="4" transform="rotate(10 12 82)" fill="#3ad850"/><ellipse cx="70" cy="40" rx="1.800" ry="4" transform="rotate(-10 70 40)" fill="#3ad850"/><ellipse cx="90" cy="68" rx="1.800" ry="4" transform="rotate(30 90 68)" fill="#3ad850"/><ellipse cx="40" cy="18" rx="1.800" ry="4" transform="rotate(0 40 18)" fill="#3ad850"/></svg>
<svg x="413.2" y="683.8" width="21.2" height="21.5" viewBox="0 0 100 100" preserveAspectRatio="none"><rect width="100" height="100" fill="#05051a"/></svg>
<svg x="413.2" y="706.8" width="21.2" height="20.6" viewBox="0 0 100 100" preserveAspectRatio="none"><rect width="100" height="100" fill="#060e08"/></svg>
<svg x="413.2" y="728.9" width="21.2" height="20.9" viewBox="0 0 100 100" preserveAspectRatio="none"><rect width="100" height="100" fill="#f2f2f2"/><rect x="0" y="0" width="100" height="100" filter="url(#n78)"/><path d="M0 0 H30 C26 20 14 40 0 44 Z" fill="#040404"/></svg>
<svg x="436.8" y="683.5" width="67.5" height="66.0" viewBox="0 0 100 100" preserveAspectRatio="none"><rect width="100" height="100" fill="#f6f6f6"/><rect x="-30" y="-30" width="160" height="160" filter="url(#n66)" opacity="0.8"/><rect x="-30" y="-30" width="160" height="160" filter="url(#n67)"/><rect x="-30" y="-30" width="160" height="160" filter="url(#n68)" opacity="0.7"/><path d="M0 0 H30 C28 12 20 22 24 34 C16 44 6 46 0 42 Z" fill="#040404"/><path d="M0 66 C8 68 14 78 12 100 H0 Z" fill="#040404"/><path d="M70 0 C68 20 60 40 56 58 C54 70 50 80 48 90" stroke="#050505" stroke-width="4" fill="none"/><path d="M100 30 C94 50 96 70 100 80" stroke="#050505" stroke-width="6" fill="none"/></svg>
<svg x="507.4" y="683.8" width="20.6" height="21.5" viewBox="0 0 100 100" preserveAspectRatio="none"><rect width="100" height="100" fill="#05051a"/></svg>
<svg x="507.4" y="706.8" width="20.6" height="20.6" viewBox="0 0 100 100" preserveAspectRatio="none"><rect width="100" height="100" fill="#060e06"/></svg>
<svg x="507.4" y="728.9" width="20.6" height="20.9" viewBox="0 0 100 100" preserveAspectRatio="none"><rect width="100" height="100" fill="#8a8a8a"/><rect x="0" y="0" width="100" height="100" filter="url(#n79)" opacity="0.8"/><path d="M-5 55 L105 10 L105 24 L-5 68 Z" fill="#0a0a0a"/></svg>
<svg x="530.4" y="683.5" width="65.9" height="66.0" viewBox="0 0 100 100" preserveAspectRatio="none"><rect width="100" height="100" fill="#8e9092"/><rect x="-30" y="-30" width="160" height="160" filter="url(#n69)" opacity="0.8"/><rect x="-30" y="-30" width="160" height="160" filter="url(#n70)" opacity="0.9"/><rect x="-30" y="-30" width="160" height="160" filter="url(#n71)" opacity="0.7"/><path d="M-5 52 C30 44 60 24 105 6 L105 18 C60 38 30 56 -5 64 Z" fill="#060606"/><path d="M-5 96 C30 90 60 76 105 56 L105 64 C60 84 30 98 -5 104 Z" fill="#0a0a0a"/><path d="M0 0 H22 L0 12 Z" fill="#050505"/></svg>
<rect x="568.700" y="744.2" width="23" height="3.100" fill="#fff"/>
</g>
<g id="panelJ">
<text class="ss" x="16.5" y="778.5" font-size="21" font-weight="bold">J</text>
<text class="ss" x="143.3" y="766.0" font-size="11.3" text-anchor="middle" fill="#1a1a1a">Cy5.5</text>
<path d="M73 771 H205.5" stroke="#000" stroke-width="1.400"/>
<text class="ss" x="88.0" y="785.7" font-size="11.3" textLength="20.9" lengthAdjust="spacingAndGlyphs" fill="#1a1a1a">14 d</text>
<text class="ss" x="162.6" y="785.7" font-size="11.3" textLength="22.4" lengthAdjust="spacingAndGlyphs" fill="#1a1a1a">28 d</text>
<text class="ss" x="316.4" y="762.4" font-size="11.3" text-anchor="middle" fill="#1a1a1a">Cy5.5-NP</text>
<path d="M259 771 H391" stroke="#000" stroke-width="1.400"/>
<text class="ss" x="265.8" y="784.2" font-size="11.3" textLength="20.9" lengthAdjust="spacingAndGlyphs" fill="#1a1a1a">14 d</text>
<text class="ss" x="355.7" y="784.2" font-size="11.3" textLength="22.1" lengthAdjust="spacingAndGlyphs" fill="#1a1a1a">28 d</text>
<text class="ss" x="509.0" y="762.4" font-size="11.3" text-anchor="middle" fill="#1a1a1a">Cy5.5-5 NP</text>
<path d="M448.5 771.6 H581" stroke="#000" stroke-width="1.400"/>
<text class="ss" x="462.3" y="783.5" font-size="11.3" textLength="20.5" lengthAdjust="spacingAndGlyphs" fill="#1a1a1a">14 d</text>
<text class="ss" x="554.3" y="783.5" font-size="11.3" textLength="22.1" lengthAdjust="spacingAndGlyphs" fill="#1a1a1a">28 d</text>
<rect x="36.2" y="788.5" width="182.2" height="13.8" fill="#000"/>
<text class="ss" x="55.2" y="800.3" font-size="10.8" textLength="25.2" lengthAdjust="spacingAndGlyphs" fill="#2258b0">DAPI</text>
<text class="ss" x="95.7" y="800.3" font-size="10.8" font-weight="bold" textLength="23.9" lengthAdjust="spacingAndGlyphs" fill="#25a536">MPO</text>
<text class="ss" x="138.0" y="800.3" font-size="10.8" font-weight="bold" textLength="28.6" lengthAdjust="spacingAndGlyphs" fill="#f4f4f4">cy5.5</text>
<text class="ss" x="180.4" y="800.3" font-size="10.800" font-weight="bold" textLength="32.8" lengthAdjust="spacingAndGlyphs"><tspan fill="#f4f4f4">M</tspan><tspan fill="#2aa83a">e</tspan><tspan fill="#2a6ad0">r</tspan><tspan fill="#f4f4f4">g</tspan><tspan fill="#2aa83a">e</tspan></text>
<rect x="222.3" y="788.5" width="187.1" height="13.8" fill="#000"/>
<text class="ss" x="239.8" y="801.0" font-size="10.8" textLength="25.4" lengthAdjust="spacingAndGlyphs" fill="#2258b0">DAPI</text>
<text class="ss" x="284.5" y="801.0" font-size="10.8" font-weight="bold" textLength="24.5" lengthAdjust="spacingAndGlyphs" fill="#25a536">MPO</text>
<text class="ss" x="329.6" y="801.0" font-size="10.8" font-weight="bold" textLength="27.0" lengthAdjust="spacingAndGlyphs" fill="#f4f4f4">cy5.5</text>
<text class="ss" x="369.5" y="801" font-size="10.800" font-weight="bold" textLength="32.2" lengthAdjust="spacingAndGlyphs"><tspan fill="#f4f4f4">M</tspan><tspan fill="#2aa83a">e</tspan><tspan fill="#2a6ad0">r</tspan><tspan fill="#f4f4f4">g</tspan><tspan fill="#2aa83a">e</tspan></text>
<rect x="413.8" y="788.5" width="182.5" height="13.8" fill="#000"/>
<text class="ss" x="426.0" y="800.3" font-size="10.8" textLength="25.5" lengthAdjust="spacingAndGlyphs" fill="#2258b0">DAPI</text>
<text class="ss" x="470.0" y="800.3" font-size="10.8" font-weight="bold" textLength="24.5" lengthAdjust="spacingAndGlyphs" fill="#25a536">MPO</text>
<text class="ss" x="512.9" y="800.3" font-size="10.8" font-weight="bold" textLength="27.6" lengthAdjust="spacingAndGlyphs" fill="#f4f4f4">cy5.5</text>
<text class="ss" x="555.8" y="800.3" font-size="10.800" font-weight="bold" textLength="31.9" lengthAdjust="spacingAndGlyphs"><tspan fill="#f4f4f4">M</tspan><tspan fill="#2aa83a">e</tspan><tspan fill="#2a6ad0">r</tspan><tspan fill="#f4f4f4">g</tspan><tspan fill="#2aa83a">e</tspan></text>
<svg x="36.2" y="806.3" width="21.2" height="21.8" viewBox="0 0 100 100" preserveAspectRatio="none"><rect width="100" height="100" fill="#05061a"/></svg>
<svg x="36.2" y="829.7" width="21.2" height="21.8" viewBox="0 0 100 100" preserveAspectRatio="none"><rect width="100" height="100" fill="#0c3410"/><rect x="0" y="0" width="100" height="100" filter="url(#n98)" opacity="0.6"/></svg>
<svg x="36.2" y="853.2" width="21.2" height="21.8" viewBox="0 0 100 100" preserveAspectRatio="none"><rect width="100" height="100" fill="#050505"/></svg>
<svg x="59.2" y="806.3" width="66.0" height="68.7" viewBox="0 0 100 100" preserveAspectRatio="none"><rect width="100" height="100" fill="#0b2e10"/><rect x="-30" y="-30" width="160" height="160" filter="url(#n80)" opacity="0.28"/><rect x="-30" y="-30" width="160" height="160" filter="url(#n81)" opacity="0.4"/><rect x="-30" y="-30" width="160" height="160" filter="url(#n82)" opacity="0.7"/><path d="M30 8 C32 30 40 50 56 62 M55 55 C56 70 60 85 58 100" stroke="#041006" stroke-width="2.200" fill="none" opacity="0.8"/></svg>
<svg x="128.8" y="805.3" width="21.5" height="21.6" viewBox="0 0 100 100" preserveAspectRatio="none"><rect width="100" height="100" fill="#070820"/></svg>
<svg x="128.8" y="828.5" width="21.5" height="21.6" viewBox="0 0 100 100" preserveAspectRatio="none"><rect width="100" height="100" fill="#114414"/><rect x="0" y="0" width="100" height="100" filter="url(#n99)" opacity="0.6"/></svg>
<svg x="128.8" y="851.8" width="21.5" height="21.6" viewBox="0 0 100 100" preserveAspectRatio="none"><rect width="100" height="100" fill="#050505"/></svg>
<svg x="152.8" y="805.3" width="65.6" height="68.1" viewBox="0 0 100 100" preserveAspectRatio="none"><rect width="100" height="100" fill="#0e3c14"/><rect x="-30" y="-30" width="160" height="160" filter="url(#n83)" opacity="0.28"/><rect x="-30" y="-30" width="160" height="160" filter="url(#n84)" opacity="0.4"/><rect x="-30" y="-30" width="160" height="160" filter="url(#n85)" opacity="0.7"/><path d="M21 26 C23 40 26 60 30 82 L33 81 C30 60 28 40 25 25 Z" fill="#030c05"/><path d="M26 24 C40 14 60 16 80 10" stroke="#041006" stroke-width="2.500" fill="none"/><path d="M30 84 C50 80 70 86 96 74" stroke="#041006" stroke-width="2" fill="none" opacity="0.8"/></svg>
<svg x="222.3" y="805.8" width="21.4" height="21.3" viewBox="0 0 100 100" preserveAspectRatio="none"><rect width="100" height="100" fill="#05061a"/></svg>
<svg x="222.3" y="828.7" width="21.4" height="21.3" viewBox="0 0 100 100" preserveAspectRatio="none"><rect width="100" height="100" fill="#0b300f"/><rect x="0" y="0" width="100" height="100" filter="url(#n100)" opacity="0.6"/></svg>
<svg x="222.3" y="851.5" width="21.4" height="21.3" viewBox="0 0 100 100" preserveAspectRatio="none"><rect width="100" height="100" fill="#1e1e1e"/><rect x="0" y="0" width="100" height="100" filter="url(#n101)" opacity="0.5"/></svg>
<svg x="246.2" y="805.8" width="65.0" height="67.0" viewBox="0 0 100 100" preserveAspectRatio="none"><rect width="100" height="100" fill="#0e401a"/><rect x="-30" y="-30" width="160" height="160" filter="url(#n86)" opacity="0.32" transform="rotate(-35 50 50)"/><rect x="-30" y="-30" width="160" height="160" filter="url(#n87)" opacity="0.55" transform="rotate(-35 50 50)"/><rect x="-30" y="-30" width="160" height="160" filter="url(#n88)" opacity="0.7"/><path d="M10 60 C30 70 50 72 76 62 M76 62 C82 74 88 86 96 100 M60 20 C70 40 78 52 76 62" stroke="#051808" stroke-width="2.500" fill="none" opacity="0.85"/></svg>
<svg x="314.3" y="805.8" width="21.5" height="21.3" viewBox="0 0 100 100" preserveAspectRatio="none"><rect width="100" height="100" fill="#070820"/></svg>
<svg x="314.3" y="828.7" width="21.5" height="21.3" viewBox="0 0 100 100" preserveAspectRatio="none"><rect width="100" height="100" fill="#124a16"/><rect x="0" y="0" width="100" height="100" filter="url(#n102)" opacity="0.6"/></svg>
<svg x="314.3" y="851.5" width="21.5" height="21.3" viewBox="0 0 100 100" preserveAspectRatio="none"><rect width="100" height="100" fill="#1c1c1c"/><rect x="0" y="0" width="100" height="100" filter="url(#n103)" opacity="0.5"/></svg>
<svg x="338.2" y="805.8" width="65.7" height="67.0" viewBox="0 0 100 100" preserveAspectRatio="none"><rect width="100" height="100" fill="#186a26"/><rect x="-30" y="-30" width="160" height="160" filter="url(#n89)" opacity="0.4" transform="rotate(30 50 50)"/><rect x="-30" y="-30" width="160" height="160" filter="url(#n90)" opacity="0.5" transform="rotate(30 50 50)"/><rect x="-30" y="-30" width="160" height="160" filter="url(#n91)" opacity="0.7"/></svg>
<svg x="413.8" y="806.3" width="20.9" height="21.1" viewBox="0 0 100 100" preserveAspectRatio="none"><rect width="100" height="100" fill="#070824"/></svg>
<svg x="413.8" y="829.0" width="20.9" height="21.1" viewBox="0 0 100 100" preserveAspectRatio="none"><rect width="100" height="100" fill="#0c2c10"/><rect x="0" y="0" width="100" height="100" filter="url(#n104)" opacity="0.6"/></svg>
<svg x="413.8" y="851.7" width="20.9" height="21.1" viewBox="0 0 100 100" preserveAspectRatio="none"><rect width="100" height="100" fill="#f0f0f0"/><rect x="0" y="0" width="100" height="100" filter="url(#n105)"/><path d="M0 10 C30 20 60 40 70 70 M90 0 C80 30 60 50 30 70" stroke="#0a0a0a" stroke-width="6" fill="none"/></svg>
<svg x="436.8" y="806.3" width="66.0" height="66.5" viewBox="0 0 100 100" preserveAspectRatio="none"><rect width="100" height="100" fill="#f4faf6"/><rect x="-30" y="-30" width="160" height="160" filter="url(#n92)" opacity="0.8"/><rect x="-30" y="-30" width="160" height="160" filter="url(#n93)"/><rect x="-30" y="-30" width="160" height="160" filter="url(#n94)" opacity="0.8"/><g fill="none" stroke="#07141e" stroke-linecap="round"><path d="M92 -5 C84 20 66 48 30 78" stroke-width="7"/><path d="M-5 22 C20 28 40 40 56 54" stroke-width="6"/><path d="M-5 44 C10 52 24 64 30 78 C32 88 30 96 28 105" stroke-width="6"/><path d="M-5 2 C20 4 44 14 62 30" stroke-width="4"/><path d="M-5 72 C6 80 12 92 12 105" stroke-width="5"/></g><ellipse cx="70" cy="40" rx="2" ry="6" transform="rotate(35 70 40)" fill="#20c8a8"/><ellipse cx="52" cy="60" rx="2" ry="5" transform="rotate(50 52 60)" fill="#20c8a8"/></svg>
<svg x="507.4" y="805.5" width="20.8" height="21.4" viewBox="0 0 100 100" preserveAspectRatio="none"><rect width="100" height="100" fill="#070824"/></svg>
<svg x="507.4" y="828.5" width="20.8" height="21.4" viewBox="0 0 100 100" preserveAspectRatio="none"><rect width="100" height="100" fill="#0e3411"/><rect x="0" y="0" width="100" height="100" filter="url(#n106)" opacity="0.6"/></svg>
<svg x="507.4" y="851.4" width="20.8" height="21.4" viewBox="0 0 100 100" preserveAspectRatio="none"><rect width="100" height="100" fill="#a0a0a0"/><rect x="0" y="0" width="100" height="100" filter="url(#n107)"/></svg>
<svg x="530.4" y="805.5" width="65.9" height="67.3" viewBox="0 0 100 100" preserveAspectRatio="none"><rect width="100" height="100" fill="#b8e0ba"/><rect x="-30" y="-30" width="160" height="160" filter="url(#n95)" opacity="0.7"/><rect x="-30" y="-30" width="160" height="160" filter="url(#n96)" opacity="0.95"/><rect x="-30" y="-30" width="160" height="160" filter="url(#n97)" opacity="0.8"/><path d="M0 0 H100 V5 C70 4 40 8 0 8 Z" fill="#07120c"/><g fill="none" stroke="#08161a" stroke-linecap="round"><path d="M-5 44 C20 36 50 32 75 26 C86 24 96 18 105 14" stroke-width="7"/><path d="M-5 70 C20 84 50 92 80 98" stroke-width="4"/><path d="M50 32 C56 50 70 70 105 82" stroke-width="3"/></g><ellipse cx="55" cy="24" rx="7" ry="2.400" transform="rotate(-8 55 24)" fill="#20c0a8"/></svg>
<rect x="568.700" y="864.5" width="22.400" height="3.500" fill="#fff"/>
</g>
<text x="581" y="863" font-size="21" fill="#555" fill-opacity="0.36" font-family="'Liberation Sans', 'Noto Sans CJK SC', sans-serif" textLength="135" lengthAdjust="spacingAndGlyphs">Hunter-Organs</text>
</svg>
</body>
</html>
